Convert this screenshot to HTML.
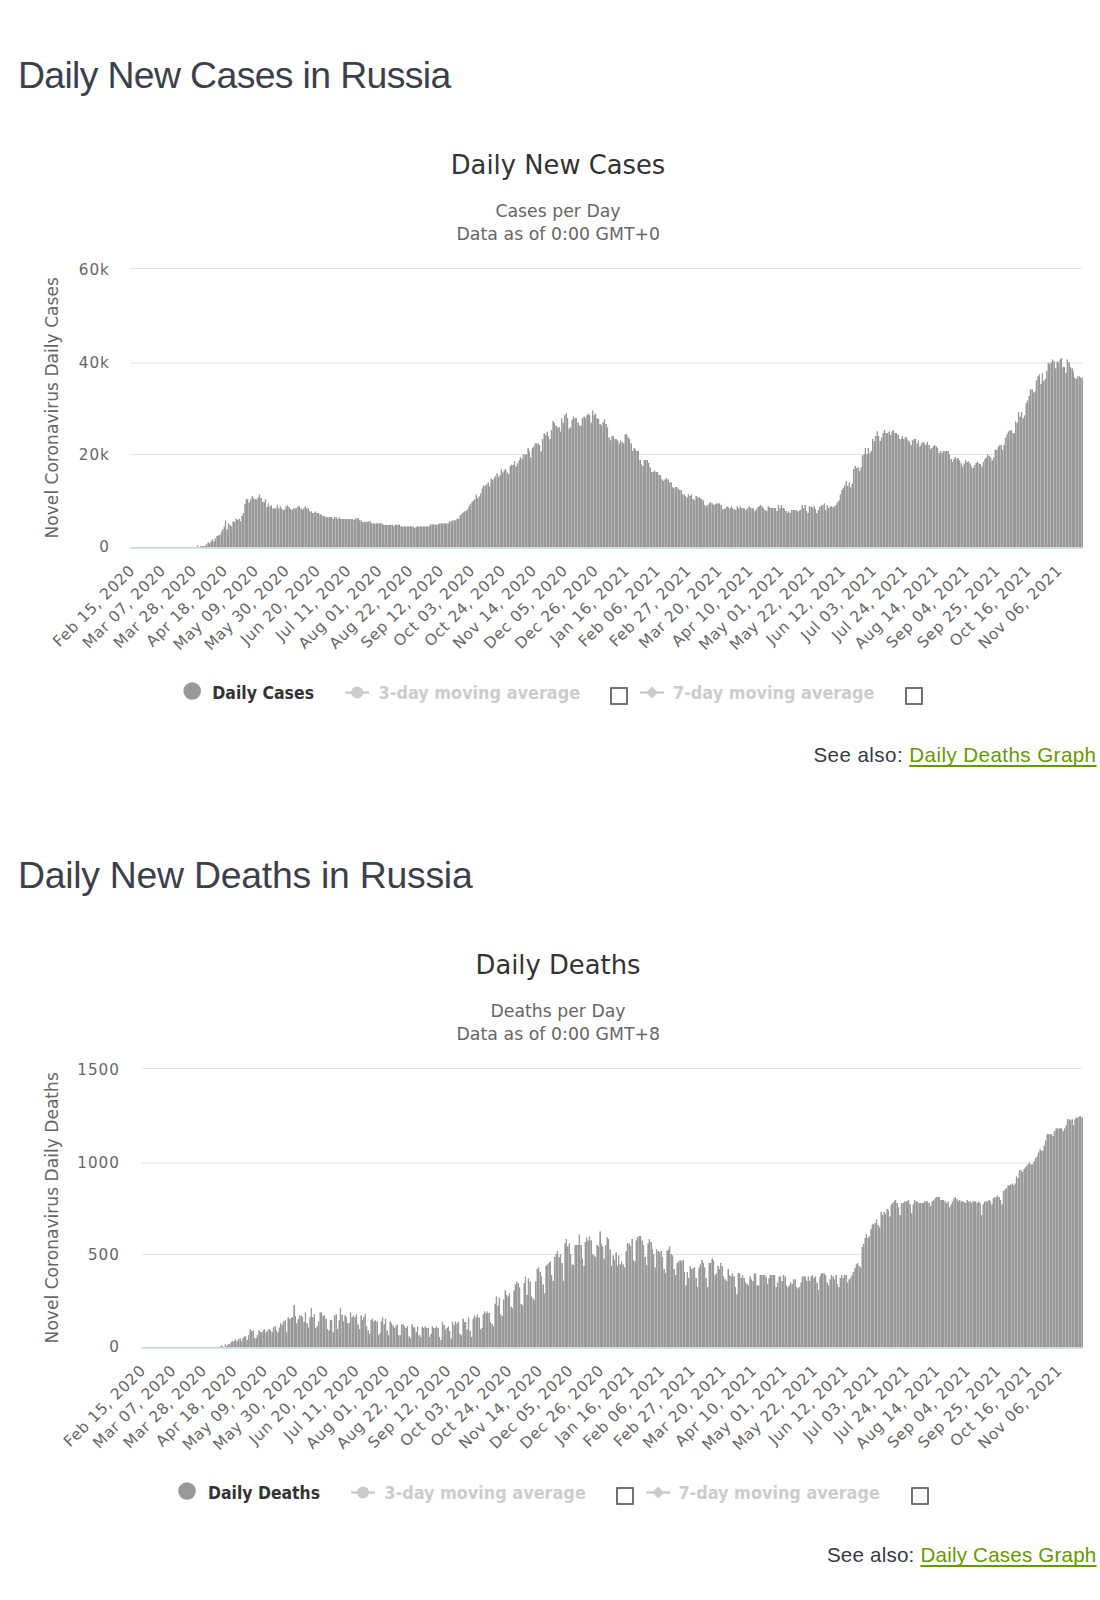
<!DOCTYPE html>
<html lang="en"><head><meta charset="utf-8"><title>Russia COVID - Coronavirus Statistics</title>
<style>
html,body{margin:0;padding:0;background:#fff}
body{width:1100px;height:1600px;position:relative;overflow:hidden;font-family:"Liberation Sans",sans-serif;color:#363945}
h3{position:absolute;left:17.9px;margin:0;font-weight:normal;font-size:37.4px;line-height:42px;color:#3c3f4c;white-space:nowrap;letter-spacing:-0.645px}
.chartbox{position:absolute;left:0;width:1100px;height:720px}
svg.hc{position:absolute;left:0;top:0;overflow:visible;font-family:"DejaVu Sans","Liberation Sans",sans-serif}
svg .t{font-size:25.8px;fill:#333}
svg .st{font-size:17.3px;fill:#666}
svg .yl text{font-size:15.2px;fill:#666;letter-spacing:1.0px}
svg .xl text{font-size:15.4px;fill:#666;letter-spacing:0.62px}
svg .yt{font-size:17.1px;fill:#666}
svg .lg text{font-family:"DejaVu Sans Condensed","DejaVu Sans",sans-serif;font-weight:bold;font-size:17.4px}
.cb{position:absolute;box-sizing:border-box;width:18px;height:18px;border:2px solid #717171;border-radius:1px;background:#fff;margin:0;appearance:none;-webkit-appearance:none}
.see{position:absolute;right:3.5px;font-size:20.6px;line-height:26px;white-space:nowrap;color:#363945;letter-spacing:0.42px}
.see a{color:#669900;text-decoration:underline;text-decoration-thickness:1.5px;text-underline-offset:2.5px;text-decoration-skip-ink:none}
</style></head><body>
<h3 style="top:54px">Daily New Cases in Russia</h3>
<div class="chartbox" style="top:0">
<svg class="hc" width="1100" height="620" viewBox="0 0 1100 620">
<text class="t" x="558" y="174.3" text-anchor="middle">Daily New Cases</text>
<text class="st" x="558" y="216.8" text-anchor="middle">Cases per Day</text>
<text class="st" x="558.3" y="239.7" text-anchor="middle" textLength="203.6">Data as of 0:00 GMT+0</text>
<path d="M130.5 268.5H1082.5" stroke="#e4e4e4" stroke-width="1.1"/>
<path d="M130.5 363.0H1082.5" stroke="#e4e4e4" stroke-width="1.1"/>
<path d="M130.5 454.5H1082.5" stroke="#e4e4e4" stroke-width="1.1"/>
<g class="yl" text-anchor="end">
<text x="109.9" y="275.3">60k</text>
<text x="109.9" y="368.3">40k</text>
<text x="109.9" y="459.6">20k</text>
<text x="109.9" y="552.2">0</text>
</g>
<text class="yt" transform="translate(58.1 407.8) rotate(-90)" text-anchor="middle">Novel Coronavirus Daily Cases</text>
<path d="M130.50 547.4L130.50 547.4h1.474L131.97 547.4h1.474L133.45 547.4h1.474L134.92 547.4h1.474L136.40 547.4h1.474L137.87 547.4h1.474L139.34 547.4h1.474L140.82 547.4h1.474L142.29 547.4h1.474L143.77 547.4h1.474L145.24 547.4h1.474L146.72 547.4h1.474L148.19 547.4h1.474L149.66 547.4h1.474L151.14 547.4h1.474L152.61 547.4h1.474L154.09 547.4h1.474L155.56 547.4h1.474L157.03 547.4h1.474L158.51 547.4h1.474L159.98 547.4h1.474L161.46 547.4h1.474L162.93 547.4h1.474L164.41 547.4h1.474L165.88 547.4h1.474L167.35 547.4h1.474L168.83 547.4h1.474L170.30 547.4h1.474L171.78 547.4h1.474L173.25 547.4h1.474L174.72 547.4h1.474L176.20 547.4h1.474L177.67 547.4h1.474L179.15 547.4h1.474L180.62 547.4h1.474L182.10 547.4h1.474L183.57 547.4h1.474L185.04 547.4h1.474L186.52 547.4h1.474L187.99 547.4h1.474L189.47 547.4h1.474L190.94 547.4h1.474L192.41 547.4h1.474L193.89 547.4h1.474L195.36 547.4h1.474L196.84 545.5h1.474L198.31 547.0h1.474L199.78 546.0h1.474L201.26 546.0h1.474L202.73 546.0h1.474L204.21 546.0h1.474L205.68 544.5h1.474L207.16 542.5h1.474L208.63 543.5h1.474L210.10 541.5h1.474L211.58 539.5h1.474L213.05 541.5h1.474L214.53 538.5h1.474L216.00 536.0h1.474L217.47 535.5h1.474L218.95 535.0h1.474L220.42 532.5h1.474L221.90 529.5h1.474L223.37 526.5h1.474L224.85 520.5h1.474L226.32 529.5h1.474L227.79 523.5h1.474L229.27 525.0h1.474L230.74 526.5h1.474L232.22 521.5h1.474L233.69 522.0h1.474L235.16 518.8h1.474L236.64 520.0h1.474L238.11 518.8h1.474L239.59 521.5h1.474L241.06 516.0h1.474L242.54 513.0h1.474L244.01 504.0h1.474L245.48 499.3h1.474L246.96 499.3h1.474L248.43 502.5h1.474L249.91 499.5h1.474L251.38 496.3h1.474L252.85 497.9h1.474L254.33 499.5h1.474L255.80 499.5h1.474L257.28 497.5h1.474L258.75 494.5h1.474L260.23 498.0h1.474L261.70 502.0h1.474L263.17 502.0h1.474L264.65 499.3h1.474L266.12 507.0h1.474L267.60 503.5h1.474L269.07 506.5h1.474L270.54 505.5h1.474L272.02 508.5h1.474L273.49 508.5h1.474L274.97 508.5h1.474L276.44 505.2h1.474L277.91 508.5h1.474L279.39 506.5h1.474L280.86 508.5h1.474L282.34 510.0h1.474L283.81 509.5h1.474L285.29 506.5h1.474L286.76 505.5h1.474L288.23 507.0h1.474L289.71 509.0h1.474L291.18 510.0h1.474L292.66 508.5h1.474L294.13 508.5h1.474L295.60 508.5h1.474L297.08 506.5h1.474L298.55 506.5h1.474L300.03 508.5h1.474L301.50 510.0h1.474L302.98 508.5h1.474L304.45 506.5h1.474L305.92 508.5h1.474L307.40 508.5h1.474L308.87 511.5h1.474L310.35 511.5h1.474L311.82 513.0h1.474L313.29 513.0h1.474L314.77 511.5h1.474L316.24 513.0h1.474L317.72 513.0h1.474L319.19 514.5h1.474L320.67 514.5h1.474L322.14 516.0h1.474L323.61 516.0h1.474L325.09 517.2h1.474L326.56 517.2h1.474L328.04 517.2h1.474L329.51 517.2h1.474L330.98 517.2h1.474L332.46 519.0h1.474L333.93 517.2h1.474L335.41 517.2h1.474L336.88 519.0h1.474L338.35 517.2h1.474L339.83 519.0h1.474L341.30 519.0h1.474L342.78 519.0h1.474L344.25 519.0h1.474L345.73 519.0h1.474L347.20 519.0h1.474L348.67 519.0h1.474L350.15 519.0h1.474L351.62 519.0h1.474L353.10 520.0h1.474L354.57 518.5h1.474L356.04 518.5h1.474L357.52 518.5h1.474L358.99 520.5h1.474L360.47 520.5h1.474L361.94 522.0h1.474L363.42 521.9h1.474L364.89 521.8h1.474L366.36 521.7h1.474L367.84 521.6h1.474L369.31 521.5h1.474L370.79 523.5h1.474L372.26 523.5h1.474L373.73 523.5h1.474L375.21 523.5h1.474L376.68 523.5h1.474L378.16 523.5h1.474L379.63 523.5h1.474L381.11 523.5h1.474L382.58 525.0h1.474L384.05 525.0h1.474L385.53 524.9h1.474L387.00 524.9h1.474L388.48 524.9h1.474L389.95 524.8h1.474L391.42 524.8h1.474L392.90 526.2h1.474L394.37 524.8h1.474L395.85 524.8h1.474L397.32 524.8h1.474L398.80 524.8h1.474L400.27 526.5h1.474L401.74 526.5h1.474L403.22 526.5h1.474L404.69 526.5h1.474L406.17 526.5h1.474L407.64 526.5h1.474L409.11 526.5h1.474L410.59 526.5h1.474L412.06 526.5h1.474L413.54 528.0h1.474L415.01 527.2h1.474L416.48 526.5h1.474L417.96 526.5h1.474L419.43 526.5h1.474L420.91 526.5h1.474L422.38 526.5h1.474L423.86 526.5h1.474L425.33 526.5h1.474L426.80 526.5h1.474L428.28 526.5h1.474L429.75 524.5h1.474L431.23 524.6h1.474L432.70 524.6h1.474L434.17 524.7h1.474L435.65 524.8h1.474L437.12 524.5h1.474L438.60 523.5h1.474L440.07 523.5h1.474L441.55 523.5h1.474L443.02 523.5h1.474L444.49 523.5h1.474L445.97 523.5h1.474L447.44 523.5h1.474L448.92 521.5h1.474L450.39 521.5h1.474L451.86 520.5h1.474L453.34 520.5h1.474L454.81 520.5h1.474L456.29 518.5h1.474L457.76 519.0h1.474L459.24 515.5h1.474L460.71 514.0h1.474L462.18 512.8h1.474L463.66 511.5h1.474L465.13 511.0h1.474L466.61 509.0h1.474L468.08 506.5h1.474L469.55 504.5h1.474L471.03 502.0h1.474L472.50 500.8h1.474L473.98 499.5h1.474L475.45 494.5h1.474L476.92 498.0h1.474L478.40 496.5h1.474L479.87 493.5h1.474L481.35 488.5h1.474L482.82 485.5h1.474L484.30 486.0h1.474L485.77 484.2h1.474L487.24 482.5h1.474L488.72 486.5h1.474L490.19 478.5h1.474L491.67 480.0h1.474L493.14 478.5h1.474L494.61 476.0h1.474L496.09 473.5h1.474L497.56 477.0h1.474L499.04 475.5h1.474L500.51 469.2h1.474L501.99 472.5h1.474L503.46 470.5h1.474L504.93 469.2h1.474L506.41 472.5h1.474L507.88 474.0h1.474L509.36 466.2h1.474L510.83 464.8h1.474L512.30 465.0h1.474L513.78 461.5h1.474L515.25 466.5h1.474L516.73 463.5h1.474L518.20 460.4h1.474L519.68 457.2h1.474L521.15 459.0h1.474L522.62 454.5h1.474L524.10 454.5h1.474L525.57 454.5h1.474L527.05 448.3h1.474L528.52 451.5h1.474L529.99 457.5h1.474L531.47 448.3h1.474L532.94 446.5h1.474L534.42 443.5h1.474L535.89 443.5h1.474L537.37 443.5h1.474L538.84 445.3h1.474L540.31 451.5h1.474L541.79 439.3h1.474L543.26 433.3h1.474L544.74 435.0h1.474L546.21 431.8h1.474L547.68 436.3h1.474L549.16 439.3h1.474L550.63 430.3h1.474L552.11 421.3h1.474L553.58 423.0h1.474L555.05 425.8h1.474L556.53 427.3h1.474L558.00 427.3h1.474L559.48 431.8h1.474L560.95 418.3h1.474L562.43 422.8h1.474L563.90 415.3h1.474L565.37 413.5h1.474L566.85 418.3h1.474L568.32 428.8h1.474L569.80 427.3h1.474L571.27 419.8h1.474L572.74 416.5h1.474L574.22 418.3h1.474L575.69 418.3h1.474L577.17 422.8h1.474L578.64 425.8h1.474L580.12 425.8h1.474L581.59 418.3h1.474L583.06 416.5h1.474L584.54 418.3h1.474L586.01 415.3h1.474L587.49 413.5h1.474L588.96 415.3h1.474L590.43 422.8h1.474L591.91 410.5h1.474L593.38 415.3h1.474L594.86 413.5h1.474L596.33 418.3h1.474L597.81 419.0h1.474L599.28 424.0h1.474L600.75 425.5h1.474L602.23 422.5h1.474L603.70 419.5h1.474L605.18 424.0h1.474L606.65 427.5h1.474L608.12 437.5h1.474L609.60 440.5h1.474L611.07 436.2h1.474L612.55 436.2h1.474L614.02 439.2h1.474L615.49 439.2h1.474L616.97 440.5h1.474L618.44 443.5h1.474L619.92 440.5h1.474L621.39 442.0h1.474L622.87 443.5h1.474L624.34 434.5h1.474L625.81 434.5h1.474L627.29 437.5h1.474L628.76 439.0h1.474L630.24 443.5h1.474L631.71 451.0h1.474L633.18 448.0h1.474L634.66 449.5h1.474L636.13 451.0h1.474L637.61 451.0h1.474L639.08 460.0h1.474L640.56 464.5h1.474L642.03 466.0h1.474L643.50 460.0h1.474L644.98 460.0h1.474L646.45 460.0h1.474L647.93 463.0h1.474L649.40 467.5h1.474L650.87 472.0h1.474L652.35 472.0h1.474L653.82 470.5h1.474L655.30 472.0h1.474L656.77 472.0h1.474L658.25 475.0h1.474L659.72 475.0h1.474L661.19 479.5h1.474L662.67 481.0h1.474L664.14 479.5h1.474L665.62 478.0h1.474L667.09 479.5h1.474L668.56 482.5h1.474L670.04 482.5h1.474L671.51 487.0h1.474L672.99 488.5h1.474L674.46 487.0h1.474L675.93 487.0h1.474L677.41 488.5h1.474L678.88 490.0h1.474L680.36 490.0h1.474L681.83 494.5h1.474L683.31 494.5h1.474L684.78 496.0h1.474L686.25 497.5h1.474L687.73 494.5h1.474L689.20 496.0h1.474L690.68 494.5h1.474L692.15 499.0h1.474L693.62 500.5h1.474L695.10 496.0h1.474L696.57 497.5h1.474L698.05 497.5h1.474L699.52 498.2h1.474L701.00 499.0h1.474L702.47 500.5h1.474L703.94 505.0h1.474L705.42 506.5h1.474L706.89 505.0h1.474L708.37 503.5h1.474L709.84 502.0h1.474L711.31 503.5h1.474L712.79 505.0h1.474L714.26 504.2h1.474L715.74 503.5h1.474L717.21 503.5h1.474L718.69 503.5h1.474L720.16 505.0h1.474L721.63 509.5h1.474L723.11 509.0h1.474L724.58 508.5h1.474L726.06 506.5h1.474L727.53 507.5h1.474L729.00 508.5h1.474L730.48 506.5h1.474L731.95 508.5h1.474L733.43 509.2h1.474L734.90 510.0h1.474L736.38 506.5h1.474L737.85 508.5h1.474L739.32 506.5h1.474L740.80 508.0h1.474L742.27 508.2h1.474L743.75 508.5h1.474L745.22 510.0h1.474L746.69 508.5h1.474L748.17 506.5h1.474L749.64 508.0h1.474L751.12 508.2h1.474L752.59 508.5h1.474L754.06 511.0h1.474L755.54 509.0h1.474L757.01 507.0h1.474L758.49 506.5h1.474L759.96 505.0h1.474L761.44 506.8h1.474L762.91 508.5h1.474L764.38 510.0h1.474L765.86 511.0h1.474L767.33 506.5h1.474L768.81 507.2h1.474L770.28 508.0h1.474L771.75 508.0h1.474L773.23 508.0h1.474L774.70 508.0h1.474L776.18 511.0h1.474L777.65 505.0h1.474L779.13 508.5h1.474L780.60 505.0h1.474L782.07 508.0h1.474L783.55 509.0h1.474L785.02 511.0h1.474L786.50 513.0h1.474L787.97 511.5h1.474L789.44 513.0h1.474L790.92 510.0h1.474L792.39 510.0h1.474L793.87 510.0h1.474L795.34 510.0h1.474L796.82 511.5h1.474L798.29 510.8h1.474L799.76 510.0h1.474L801.24 505.0h1.474L802.71 508.5h1.474L804.19 505.0h1.474L805.66 511.0h1.474L807.13 513.0h1.474L808.61 506.5h1.474L810.08 506.5h1.474L811.56 508.0h1.474L813.03 506.5h1.474L814.50 509.0h1.474L815.98 513.0h1.474L817.45 510.0h1.474L818.93 507.0h1.474L820.40 505.5h1.474L821.88 505.5h1.474L823.35 503.5h1.474L824.82 510.0h1.474L826.30 505.0h1.474L827.77 508.0h1.474L829.25 506.5h1.474L830.72 506.5h1.474L832.19 507.0h1.474L833.67 506.5h1.474L835.14 505.0h1.474L836.62 502.0h1.474L838.09 500.5h1.474L839.57 494.5h1.474L841.04 490.0h1.474L842.51 487.8h1.474L843.99 485.5h1.474L845.46 481.0h1.474L846.94 486.0h1.474L848.41 482.5h1.474L849.88 487.5h1.474L851.36 484.0h1.474L852.83 469.0h1.474L854.31 466.0h1.474L855.78 468.0h1.474L857.26 467.5h1.474L858.73 471.0h1.474L860.20 467.5h1.474L861.68 455.5h1.474L863.15 454.0h1.474L864.63 448.0h1.474L866.10 454.0h1.474L867.57 448.0h1.474L869.05 453.0h1.474L870.52 451.0h1.474L872.00 439.0h1.474L873.47 441.0h1.474L874.95 436.0h1.474L876.42 431.5h1.474L877.89 436.0h1.474L879.37 441.0h1.474L880.84 437.5h1.474L882.32 433.0h1.474L883.79 430.0h1.474L885.26 433.0h1.474L886.74 433.5h1.474L888.21 431.5h1.474L889.69 435.0h1.474L891.16 431.5h1.474L892.63 430.0h1.474L894.11 433.0h1.474L895.58 433.0h1.474L897.06 434.5h1.474L898.53 439.0h1.474L900.01 439.0h1.474L901.48 436.0h1.474L902.95 439.0h1.474L904.43 437.5h1.474L905.90 437.5h1.474L907.38 440.5h1.474L908.85 442.0h1.474L910.32 445.0h1.474L911.80 440.5h1.474L913.27 439.0h1.474L914.75 439.0h1.474L916.22 443.5h1.474L917.70 440.5h1.474L919.17 446.5h1.474L920.64 443.5h1.474L922.12 442.0h1.474L923.59 443.5h1.474L925.07 445.0h1.474L926.54 442.0h1.474L928.01 445.0h1.474L929.49 449.5h1.474L930.96 448.0h1.474L932.44 446.5h1.474L933.91 445.0h1.474L935.39 446.5h1.474L936.86 448.0h1.474L938.33 453.0h1.474L939.81 451.0h1.474L941.28 453.0h1.474L942.76 451.0h1.474L944.23 451.0h1.474L945.70 451.0h1.474L947.18 451.0h1.474L948.65 454.5h1.474L950.13 459.0h1.474L951.60 462.0h1.474L953.07 459.0h1.474L954.55 457.0h1.474L956.02 458.5h1.474L957.50 458.5h1.474L958.97 460.5h1.474L960.45 463.5h1.474L961.92 466.5h1.474L963.39 463.5h1.474L964.87 460.0h1.474L966.34 462.0h1.474L967.82 461.5h1.474L969.29 463.5h1.474L970.76 466.5h1.474L972.24 468.0h1.474L973.71 465.0h1.474L975.19 463.0h1.474L976.66 461.5h1.474L978.14 463.5h1.474L979.61 464.0h1.474L981.08 466.5h1.474L982.56 462.0h1.474L984.03 459.0h1.474L985.51 457.5h1.474L986.98 454.0h1.474L988.45 456.0h1.474L989.93 457.5h1.474L991.40 460.5h1.474L992.88 457.5h1.474L994.35 449.5h1.474L995.83 450.0h1.474L997.30 447.0h1.474L998.77 445.0h1.474L1000.25 445.0h1.474L1001.72 450.0h1.474L1003.20 445.0h1.474L1004.67 437.7h1.474L1006.14 434.6h1.474L1007.62 431.4h1.474L1009.09 430.4h1.474L1010.57 430.4h1.474L1012.04 433.2h1.474L1013.52 433.2h1.474L1014.99 421.4h1.474L1016.46 422.7h1.474L1017.94 412.3h1.474L1019.41 416.8h1.474L1020.89 412.3h1.474L1022.36 418.2h1.474L1023.83 415.4h1.474L1025.31 403.2h1.474L1026.78 400.4h1.474L1028.26 395.9h1.474L1029.73 389.6h1.474L1031.20 389.6h1.474L1032.68 392.7h1.474L1034.15 391.4h1.474L1035.63 380.4h1.474L1037.10 376.4h1.474L1038.58 374.6h1.474L1040.05 384.1h1.474L1041.52 373.2h1.474L1043.00 380.9h1.474L1044.47 379.1h1.474L1045.95 370.9h1.474L1047.42 362.7h1.474L1048.89 364.1h1.474L1050.37 362.3h1.474L1051.84 359.6h1.474L1053.32 361.4h1.474L1054.79 368.6h1.474L1056.27 361.4h1.474L1057.74 362.7h1.474L1059.21 359.6h1.474L1060.69 358.2h1.474L1062.16 367.3h1.474L1063.64 367.3h1.474L1065.11 372.7h1.474L1066.58 359.6h1.474L1068.06 362.3h1.474L1069.53 367.3h1.474L1071.01 368.6h1.474L1072.48 371.8h1.474L1073.96 377.7h1.474L1075.43 379.1h1.474L1076.90 376.4h1.474L1078.38 376.4h1.474L1079.85 377.7h1.474L1081.33 377.7h1.474L1082.80 547.4z" fill="#b7b7b7"/>
<path d="M197 547.4V545.5h1V547.4zM199 547.4V547.0h1V547.4zM200 547.4V546.0h1V547.4zM202 547.4V546.0h1V547.4zM203 547.4V546.0h1V547.4zM205 547.4V546.0h1V547.4zM206 547.4V544.5h1V547.4zM208 547.4V542.5h1V547.4zM209 547.4V543.5h1V547.4zM211 547.4V541.5h1V547.4zM212 547.4V539.5h1V547.4zM214 547.4V541.5h1V547.4zM215 547.4V538.5h1V547.4zM217 547.4V536.0h1V547.4zM218 547.4V535.5h1V547.4zM219 547.4V535.0h1V547.4zM221 547.4V532.5h1V547.4zM222 547.4V529.5h1V547.4zM224 547.4V526.5h1V547.4zM225 547.4V520.5h1V547.4zM227 547.4V529.5h1V547.4zM228 547.4V523.5h1V547.4zM230 547.4V525.0h1V547.4zM231 547.4V526.5h1V547.4zM233 547.4V521.5h1V547.4zM234 547.4V522.0h1V547.4zM236 547.4V518.8h1V547.4zM237 547.4V520.0h1V547.4zM239 547.4V518.8h1V547.4zM240 547.4V521.5h1V547.4zM242 547.4V516.0h1V547.4zM243 547.4V513.0h1V547.4zM245 547.4V504.0h1V547.4zM246 547.4V499.3h1V547.4zM247 547.4V499.3h1V547.4zM249 547.4V502.5h1V547.4zM250 547.4V499.5h1V547.4zM252 547.4V496.3h1V547.4zM253 547.4V497.9h1V547.4zM255 547.4V499.5h1V547.4zM256 547.4V499.5h1V547.4zM258 547.4V497.5h1V547.4zM259 547.4V494.5h1V547.4zM261 547.4V498.0h1V547.4zM262 547.4V502.0h1V547.4zM264 547.4V502.0h1V547.4zM265 547.4V499.3h1V547.4zM267 547.4V507.0h1V547.4zM268 547.4V503.5h1V547.4zM270 547.4V506.5h1V547.4zM271 547.4V505.5h1V547.4zM273 547.4V508.5h1V547.4zM274 547.4V508.5h1V547.4zM275 547.4V508.5h1V547.4zM277 547.4V505.2h1V547.4zM278 547.4V508.5h1V547.4zM280 547.4V506.5h1V547.4zM281 547.4V508.5h1V547.4zM283 547.4V510.0h1V547.4zM284 547.4V509.5h1V547.4zM286 547.4V506.5h1V547.4zM287 547.4V505.5h1V547.4zM289 547.4V507.0h1V547.4zM290 547.4V509.0h1V547.4zM292 547.4V510.0h1V547.4zM293 547.4V508.5h1V547.4zM295 547.4V508.5h1V547.4zM296 547.4V508.5h1V547.4zM298 547.4V506.5h1V547.4zM299 547.4V506.5h1V547.4zM301 547.4V508.5h1V547.4zM302 547.4V510.0h1V547.4zM303 547.4V508.5h1V547.4zM305 547.4V506.5h1V547.4zM306 547.4V508.5h1V547.4zM308 547.4V508.5h1V547.4zM309 547.4V511.5h1V547.4zM311 547.4V511.5h1V547.4zM312 547.4V513.0h1V547.4zM314 547.4V513.0h1V547.4zM315 547.4V511.5h1V547.4zM317 547.4V513.0h1V547.4zM318 547.4V513.0h1V547.4zM320 547.4V514.5h1V547.4zM321 547.4V514.5h1V547.4zM323 547.4V516.0h1V547.4zM324 547.4V516.0h1V547.4zM326 547.4V517.2h1V547.4zM327 547.4V517.2h1V547.4zM329 547.4V517.2h1V547.4zM330 547.4V517.2h1V547.4zM331 547.4V517.2h1V547.4zM333 547.4V519.0h1V547.4zM334 547.4V517.2h1V547.4zM336 547.4V517.2h1V547.4zM337 547.4V519.0h1V547.4zM339 547.4V517.2h1V547.4zM340 547.4V519.0h1V547.4zM342 547.4V519.0h1V547.4zM343 547.4V519.0h1V547.4zM345 547.4V519.0h1V547.4zM346 547.4V519.0h1V547.4zM348 547.4V519.0h1V547.4zM349 547.4V519.0h1V547.4zM351 547.4V519.0h1V547.4zM352 547.4V519.0h1V547.4zM354 547.4V520.0h1V547.4zM355 547.4V518.5h1V547.4zM357 547.4V518.5h1V547.4zM358 547.4V518.5h1V547.4zM359 547.4V520.5h1V547.4zM361 547.4V520.5h1V547.4zM362 547.4V522.0h1V547.4zM364 547.4V521.9h1V547.4zM365 547.4V521.8h1V547.4zM367 547.4V521.7h1V547.4zM368 547.4V521.6h1V547.4zM370 547.4V521.5h1V547.4zM371 547.4V523.5h1V547.4zM373 547.4V523.5h1V547.4zM374 547.4V523.5h1V547.4zM376 547.4V523.5h1V547.4zM377 547.4V523.5h1V547.4zM379 547.4V523.5h1V547.4zM380 547.4V523.5h1V547.4zM382 547.4V523.5h1V547.4zM383 547.4V525.0h1V547.4zM385 547.4V525.0h1V547.4zM386 547.4V524.9h1V547.4zM388 547.4V524.9h1V547.4zM389 547.4V524.9h1V547.4zM390 547.4V524.8h1V547.4zM392 547.4V524.8h1V547.4zM393 547.4V526.2h1V547.4zM395 547.4V524.8h1V547.4zM396 547.4V524.8h1V547.4zM398 547.4V524.8h1V547.4zM399 547.4V524.8h1V547.4zM401 547.4V526.5h1V547.4zM402 547.4V526.5h1V547.4zM404 547.4V526.5h1V547.4zM405 547.4V526.5h1V547.4zM407 547.4V526.5h1V547.4zM408 547.4V526.5h1V547.4zM410 547.4V526.5h1V547.4zM411 547.4V526.5h1V547.4zM413 547.4V526.5h1V547.4zM414 547.4V528.0h1V547.4zM416 547.4V527.2h1V547.4zM417 547.4V526.5h1V547.4zM418 547.4V526.5h1V547.4zM420 547.4V526.5h1V547.4zM421 547.4V526.5h1V547.4zM423 547.4V526.5h1V547.4zM424 547.4V526.5h1V547.4zM426 547.4V526.5h1V547.4zM427 547.4V526.5h1V547.4zM429 547.4V526.5h1V547.4zM430 547.4V524.5h1V547.4zM432 547.4V524.6h1V547.4zM433 547.4V524.6h1V547.4zM435 547.4V524.7h1V547.4zM436 547.4V524.8h1V547.4zM438 547.4V524.5h1V547.4zM439 547.4V523.5h1V547.4zM441 547.4V523.5h1V547.4zM442 547.4V523.5h1V547.4zM444 547.4V523.5h1V547.4zM445 547.4V523.5h1V547.4zM446 547.4V523.5h1V547.4zM448 547.4V523.5h1V547.4zM449 547.4V521.5h1V547.4zM451 547.4V521.5h1V547.4zM452 547.4V520.5h1V547.4zM454 547.4V520.5h1V547.4zM455 547.4V520.5h1V547.4zM457 547.4V518.5h1V547.4zM458 547.4V519.0h1V547.4zM460 547.4V515.5h1V547.4zM461 547.4V514.0h1V547.4zM463 547.4V512.8h1V547.4zM464 547.4V511.5h1V547.4zM466 547.4V511.0h1V547.4zM467 547.4V509.0h1V547.4zM469 547.4V506.5h1V547.4zM470 547.4V504.5h1V547.4zM472 547.4V502.0h1V547.4zM473 547.4V500.8h1V547.4zM474 547.4V499.5h1V547.4zM476 547.4V494.5h1V547.4zM477 547.4V498.0h1V547.4zM479 547.4V496.5h1V547.4zM480 547.4V493.5h1V547.4zM482 547.4V488.5h1V547.4zM483 547.4V485.5h1V547.4zM485 547.4V486.0h1V547.4zM486 547.4V484.2h1V547.4zM488 547.4V482.5h1V547.4zM489 547.4V486.5h1V547.4zM491 547.4V478.5h1V547.4zM492 547.4V480.0h1V547.4zM494 547.4V478.5h1V547.4zM495 547.4V476.0h1V547.4zM497 547.4V473.5h1V547.4zM498 547.4V477.0h1V547.4zM500 547.4V475.5h1V547.4zM501 547.4V469.2h1V547.4zM502 547.4V472.5h1V547.4zM504 547.4V470.5h1V547.4zM505 547.4V469.2h1V547.4zM507 547.4V472.5h1V547.4zM508 547.4V474.0h1V547.4zM510 547.4V466.2h1V547.4zM511 547.4V464.8h1V547.4zM513 547.4V465.0h1V547.4zM514 547.4V461.5h1V547.4zM516 547.4V466.5h1V547.4zM517 547.4V463.5h1V547.4zM519 547.4V460.4h1V547.4zM520 547.4V457.2h1V547.4zM522 547.4V459.0h1V547.4zM523 547.4V454.5h1V547.4zM525 547.4V454.5h1V547.4zM526 547.4V454.5h1V547.4zM528 547.4V448.3h1V547.4zM529 547.4V451.5h1V547.4zM530 547.4V457.5h1V547.4zM532 547.4V448.3h1V547.4zM533 547.4V446.5h1V547.4zM535 547.4V443.5h1V547.4zM536 547.4V443.5h1V547.4zM538 547.4V443.5h1V547.4zM539 547.4V445.3h1V547.4zM541 547.4V451.5h1V547.4zM542 547.4V439.3h1V547.4zM544 547.4V433.3h1V547.4zM545 547.4V435.0h1V547.4zM547 547.4V431.8h1V547.4zM548 547.4V436.3h1V547.4zM550 547.4V439.3h1V547.4zM551 547.4V430.3h1V547.4zM553 547.4V421.3h1V547.4zM554 547.4V423.0h1V547.4zM556 547.4V425.8h1V547.4zM557 547.4V427.3h1V547.4zM559 547.4V427.3h1V547.4zM560 547.4V431.8h1V547.4zM561 547.4V418.3h1V547.4zM563 547.4V422.8h1V547.4zM564 547.4V415.3h1V547.4zM566 547.4V413.5h1V547.4zM567 547.4V418.3h1V547.4zM569 547.4V428.8h1V547.4zM570 547.4V427.3h1V547.4zM572 547.4V419.8h1V547.4zM573 547.4V416.5h1V547.4zM575 547.4V418.3h1V547.4zM576 547.4V418.3h1V547.4zM578 547.4V422.8h1V547.4zM579 547.4V425.8h1V547.4zM581 547.4V425.8h1V547.4zM582 547.4V418.3h1V547.4zM584 547.4V416.5h1V547.4zM585 547.4V418.3h1V547.4zM587 547.4V415.3h1V547.4zM588 547.4V413.5h1V547.4zM589 547.4V415.3h1V547.4zM591 547.4V422.8h1V547.4zM592 547.4V410.5h1V547.4zM594 547.4V415.3h1V547.4zM595 547.4V413.5h1V547.4zM597 547.4V418.3h1V547.4zM598 547.4V419.0h1V547.4zM600 547.4V424.0h1V547.4zM601 547.4V425.5h1V547.4zM603 547.4V422.5h1V547.4zM604 547.4V419.5h1V547.4zM606 547.4V424.0h1V547.4zM607 547.4V427.5h1V547.4zM609 547.4V437.5h1V547.4zM610 547.4V440.5h1V547.4zM612 547.4V436.2h1V547.4zM613 547.4V436.2h1V547.4zM615 547.4V439.2h1V547.4zM616 547.4V439.2h1V547.4zM617 547.4V440.5h1V547.4zM619 547.4V443.5h1V547.4zM620 547.4V440.5h1V547.4zM622 547.4V442.0h1V547.4zM623 547.4V443.5h1V547.4zM625 547.4V434.5h1V547.4zM626 547.4V434.5h1V547.4zM628 547.4V437.5h1V547.4zM629 547.4V439.0h1V547.4zM631 547.4V443.5h1V547.4zM632 547.4V451.0h1V547.4zM634 547.4V448.0h1V547.4zM635 547.4V449.5h1V547.4zM637 547.4V451.0h1V547.4zM638 547.4V451.0h1V547.4zM640 547.4V460.0h1V547.4zM641 547.4V464.5h1V547.4zM643 547.4V466.0h1V547.4zM644 547.4V460.0h1V547.4zM645 547.4V460.0h1V547.4zM647 547.4V460.0h1V547.4zM648 547.4V463.0h1V547.4zM650 547.4V467.5h1V547.4zM651 547.4V472.0h1V547.4zM653 547.4V472.0h1V547.4zM654 547.4V470.5h1V547.4zM656 547.4V472.0h1V547.4zM657 547.4V472.0h1V547.4zM659 547.4V475.0h1V547.4zM660 547.4V475.0h1V547.4zM662 547.4V479.5h1V547.4zM663 547.4V481.0h1V547.4zM665 547.4V479.5h1V547.4zM666 547.4V478.0h1V547.4zM668 547.4V479.5h1V547.4zM669 547.4V482.5h1V547.4zM671 547.4V482.5h1V547.4zM672 547.4V487.0h1V547.4zM673 547.4V488.5h1V547.4zM675 547.4V487.0h1V547.4zM676 547.4V487.0h1V547.4zM678 547.4V488.5h1V547.4zM679 547.4V490.0h1V547.4zM681 547.4V490.0h1V547.4zM682 547.4V494.5h1V547.4zM684 547.4V494.5h1V547.4zM685 547.4V496.0h1V547.4zM687 547.4V497.5h1V547.4zM688 547.4V494.5h1V547.4zM690 547.4V496.0h1V547.4zM691 547.4V494.5h1V547.4zM693 547.4V499.0h1V547.4zM694 547.4V500.5h1V547.4zM696 547.4V496.0h1V547.4zM697 547.4V497.5h1V547.4zM699 547.4V497.5h1V547.4zM700 547.4V498.2h1V547.4zM701 547.4V499.0h1V547.4zM703 547.4V500.5h1V547.4zM704 547.4V505.0h1V547.4zM706 547.4V506.5h1V547.4zM707 547.4V505.0h1V547.4zM709 547.4V503.5h1V547.4zM710 547.4V502.0h1V547.4zM712 547.4V503.5h1V547.4zM713 547.4V505.0h1V547.4zM715 547.4V504.2h1V547.4zM716 547.4V503.5h1V547.4zM718 547.4V503.5h1V547.4zM719 547.4V503.5h1V547.4zM721 547.4V505.0h1V547.4zM722 547.4V509.5h1V547.4zM724 547.4V509.0h1V547.4zM725 547.4V508.5h1V547.4zM727 547.4V506.5h1V547.4zM728 547.4V507.5h1V547.4zM730 547.4V508.5h1V547.4zM731 547.4V506.5h1V547.4zM732 547.4V508.5h1V547.4zM734 547.4V509.2h1V547.4zM735 547.4V510.0h1V547.4zM737 547.4V506.5h1V547.4zM738 547.4V508.5h1V547.4zM740 547.4V506.5h1V547.4zM741 547.4V508.0h1V547.4zM743 547.4V508.2h1V547.4zM744 547.4V508.5h1V547.4zM746 547.4V510.0h1V547.4zM747 547.4V508.5h1V547.4zM749 547.4V506.5h1V547.4zM750 547.4V508.0h1V547.4zM752 547.4V508.2h1V547.4zM753 547.4V508.5h1V547.4zM755 547.4V511.0h1V547.4zM756 547.4V509.0h1V547.4zM758 547.4V507.0h1V547.4zM759 547.4V506.5h1V547.4zM760 547.4V505.0h1V547.4zM762 547.4V506.8h1V547.4zM763 547.4V508.5h1V547.4zM765 547.4V510.0h1V547.4zM766 547.4V511.0h1V547.4zM768 547.4V506.5h1V547.4zM769 547.4V507.2h1V547.4zM771 547.4V508.0h1V547.4zM772 547.4V508.0h1V547.4zM774 547.4V508.0h1V547.4zM775 547.4V508.0h1V547.4zM777 547.4V511.0h1V547.4zM778 547.4V505.0h1V547.4zM780 547.4V508.5h1V547.4zM781 547.4V505.0h1V547.4zM783 547.4V508.0h1V547.4zM784 547.4V509.0h1V547.4zM786 547.4V511.0h1V547.4zM787 547.4V513.0h1V547.4zM788 547.4V511.5h1V547.4zM790 547.4V513.0h1V547.4zM791 547.4V510.0h1V547.4zM793 547.4V510.0h1V547.4zM794 547.4V510.0h1V547.4zM796 547.4V510.0h1V547.4zM797 547.4V511.5h1V547.4zM799 547.4V510.8h1V547.4zM800 547.4V510.0h1V547.4zM802 547.4V505.0h1V547.4zM803 547.4V508.5h1V547.4zM805 547.4V505.0h1V547.4zM806 547.4V511.0h1V547.4zM808 547.4V513.0h1V547.4zM809 547.4V506.5h1V547.4zM811 547.4V506.5h1V547.4zM812 547.4V508.0h1V547.4zM814 547.4V506.5h1V547.4zM815 547.4V509.0h1V547.4zM816 547.4V513.0h1V547.4zM818 547.4V510.0h1V547.4zM819 547.4V507.0h1V547.4zM821 547.4V505.5h1V547.4zM822 547.4V505.5h1V547.4zM824 547.4V503.5h1V547.4zM825 547.4V510.0h1V547.4zM827 547.4V505.0h1V547.4zM828 547.4V508.0h1V547.4zM830 547.4V506.5h1V547.4zM831 547.4V506.5h1V547.4zM833 547.4V507.0h1V547.4zM834 547.4V506.5h1V547.4zM836 547.4V505.0h1V547.4zM837 547.4V502.0h1V547.4zM839 547.4V500.5h1V547.4zM840 547.4V494.5h1V547.4zM842 547.4V490.0h1V547.4zM843 547.4V487.8h1V547.4zM844 547.4V485.5h1V547.4zM846 547.4V481.0h1V547.4zM847 547.4V486.0h1V547.4zM849 547.4V482.5h1V547.4zM850 547.4V487.5h1V547.4zM852 547.4V484.0h1V547.4zM853 547.4V469.0h1V547.4zM855 547.4V466.0h1V547.4zM856 547.4V468.0h1V547.4zM858 547.4V467.5h1V547.4zM859 547.4V471.0h1V547.4zM861 547.4V467.5h1V547.4zM862 547.4V455.5h1V547.4zM864 547.4V454.0h1V547.4zM865 547.4V448.0h1V547.4zM867 547.4V454.0h1V547.4zM868 547.4V448.0h1V547.4zM870 547.4V453.0h1V547.4zM871 547.4V451.0h1V547.4zM872 547.4V439.0h1V547.4zM874 547.4V441.0h1V547.4zM875 547.4V436.0h1V547.4zM877 547.4V431.5h1V547.4zM878 547.4V436.0h1V547.4zM880 547.4V441.0h1V547.4zM881 547.4V437.5h1V547.4zM883 547.4V433.0h1V547.4zM884 547.4V430.0h1V547.4zM886 547.4V433.0h1V547.4zM887 547.4V433.5h1V547.4zM889 547.4V431.5h1V547.4zM890 547.4V435.0h1V547.4zM892 547.4V431.5h1V547.4zM893 547.4V430.0h1V547.4zM895 547.4V433.0h1V547.4zM896 547.4V433.0h1V547.4zM898 547.4V434.5h1V547.4zM899 547.4V439.0h1V547.4zM901 547.4V439.0h1V547.4zM902 547.4V436.0h1V547.4zM903 547.4V439.0h1V547.4zM905 547.4V437.5h1V547.4zM906 547.4V437.5h1V547.4zM908 547.4V440.5h1V547.4zM909 547.4V442.0h1V547.4zM911 547.4V445.0h1V547.4zM912 547.4V440.5h1V547.4zM914 547.4V439.0h1V547.4zM915 547.4V439.0h1V547.4zM917 547.4V443.5h1V547.4zM918 547.4V440.5h1V547.4zM920 547.4V446.5h1V547.4zM921 547.4V443.5h1V547.4zM923 547.4V442.0h1V547.4zM924 547.4V443.5h1V547.4zM926 547.4V445.0h1V547.4zM927 547.4V442.0h1V547.4zM929 547.4V445.0h1V547.4zM930 547.4V449.5h1V547.4zM931 547.4V448.0h1V547.4zM933 547.4V446.5h1V547.4zM934 547.4V445.0h1V547.4zM936 547.4V446.5h1V547.4zM937 547.4V448.0h1V547.4zM939 547.4V453.0h1V547.4zM940 547.4V451.0h1V547.4zM942 547.4V453.0h1V547.4zM943 547.4V451.0h1V547.4zM945 547.4V451.0h1V547.4zM946 547.4V451.0h1V547.4zM948 547.4V451.0h1V547.4zM949 547.4V454.5h1V547.4zM951 547.4V459.0h1V547.4zM952 547.4V462.0h1V547.4zM954 547.4V459.0h1V547.4zM955 547.4V457.0h1V547.4zM957 547.4V458.5h1V547.4zM958 547.4V458.5h1V547.4zM959 547.4V460.5h1V547.4zM961 547.4V463.5h1V547.4zM962 547.4V466.5h1V547.4zM964 547.4V463.5h1V547.4zM965 547.4V460.0h1V547.4zM967 547.4V462.0h1V547.4zM968 547.4V461.5h1V547.4zM970 547.4V463.5h1V547.4zM971 547.4V466.5h1V547.4zM973 547.4V468.0h1V547.4zM974 547.4V465.0h1V547.4zM976 547.4V463.0h1V547.4zM977 547.4V461.5h1V547.4zM979 547.4V463.5h1V547.4zM980 547.4V464.0h1V547.4zM982 547.4V466.5h1V547.4zM983 547.4V462.0h1V547.4zM985 547.4V459.0h1V547.4zM986 547.4V457.5h1V547.4zM987 547.4V454.0h1V547.4zM989 547.4V456.0h1V547.4zM990 547.4V457.5h1V547.4zM992 547.4V460.5h1V547.4zM993 547.4V457.5h1V547.4zM995 547.4V449.5h1V547.4zM996 547.4V450.0h1V547.4zM998 547.4V447.0h1V547.4zM999 547.4V445.0h1V547.4zM1001 547.4V445.0h1V547.4zM1002 547.4V450.0h1V547.4zM1004 547.4V445.0h1V547.4zM1005 547.4V437.7h1V547.4zM1007 547.4V434.6h1V547.4zM1008 547.4V431.4h1V547.4zM1010 547.4V430.4h1V547.4zM1011 547.4V430.4h1V547.4zM1013 547.4V433.2h1V547.4zM1014 547.4V433.2h1V547.4zM1015 547.4V421.4h1V547.4zM1017 547.4V422.7h1V547.4zM1018 547.4V412.3h1V547.4zM1020 547.4V416.8h1V547.4zM1021 547.4V412.3h1V547.4zM1023 547.4V418.2h1V547.4zM1024 547.4V415.4h1V547.4zM1026 547.4V403.2h1V547.4zM1027 547.4V400.4h1V547.4zM1029 547.4V395.9h1V547.4zM1030 547.4V389.6h1V547.4zM1032 547.4V389.6h1V547.4zM1033 547.4V392.7h1V547.4zM1035 547.4V391.4h1V547.4zM1036 547.4V380.4h1V547.4zM1038 547.4V376.4h1V547.4zM1039 547.4V374.6h1V547.4zM1041 547.4V384.1h1V547.4zM1042 547.4V373.2h1V547.4zM1043 547.4V380.9h1V547.4zM1045 547.4V379.1h1V547.4zM1046 547.4V370.9h1V547.4zM1048 547.4V362.7h1V547.4zM1049 547.4V364.1h1V547.4zM1051 547.4V362.3h1V547.4zM1052 547.4V359.6h1V547.4zM1054 547.4V361.4h1V547.4zM1055 547.4V368.6h1V547.4zM1057 547.4V361.4h1V547.4zM1058 547.4V362.7h1V547.4zM1060 547.4V359.6h1V547.4zM1061 547.4V358.2h1V547.4zM1063 547.4V367.3h1V547.4zM1064 547.4V367.3h1V547.4zM1066 547.4V372.7h1V547.4zM1067 547.4V359.6h1V547.4zM1069 547.4V362.3h1V547.4zM1070 547.4V367.3h1V547.4zM1072 547.4V368.6h1V547.4zM1073 547.4V371.8h1V547.4zM1074 547.4V377.7h1V547.4zM1076 547.4V379.1h1V547.4zM1077 547.4V376.4h1V547.4zM1079 547.4V376.4h1V547.4zM1080 547.4V377.7h1V547.4zM1082 547.4V377.7h1V547.4z" fill="#999"/>
<path d="M130.5 547.9H1082.5" stroke="#ccd6eb" stroke-width="1.7"/>
<g class="xl">
<text transform="translate(135.8 571.4) rotate(-45)" text-anchor="end">Feb 15, 2020</text>
<text transform="translate(166.7 571.4) rotate(-45)" text-anchor="end">Mar 07, 2020</text>
<text transform="translate(197.7 571.4) rotate(-45)" text-anchor="end">Mar 28, 2020</text>
<text transform="translate(228.6 571.4) rotate(-45)" text-anchor="end">Apr 18, 2020</text>
<text transform="translate(259.5 571.4) rotate(-45)" text-anchor="end">May 09, 2020</text>
<text transform="translate(290.4 571.4) rotate(-45)" text-anchor="end">May 30, 2020</text>
<text transform="translate(321.3 571.4) rotate(-45)" text-anchor="end">Jun 20, 2020</text>
<text transform="translate(352.2 571.4) rotate(-45)" text-anchor="end">Jul 11, 2020</text>
<text transform="translate(383.1 571.4) rotate(-45)" text-anchor="end">Aug 01, 2020</text>
<text transform="translate(414.0 571.4) rotate(-45)" text-anchor="end">Aug 22, 2020</text>
<text transform="translate(444.9 571.4) rotate(-45)" text-anchor="end">Sep 12, 2020</text>
<text transform="translate(475.8 571.4) rotate(-45)" text-anchor="end">Oct 03, 2020</text>
<text transform="translate(506.7 571.4) rotate(-45)" text-anchor="end">Oct 24, 2020</text>
<text transform="translate(537.6 571.4) rotate(-45)" text-anchor="end">Nov 14, 2020</text>
<text transform="translate(568.5 571.4) rotate(-45)" text-anchor="end">Dec 05, 2020</text>
<text transform="translate(599.4 571.4) rotate(-45)" text-anchor="end">Dec 26, 2020</text>
<text transform="translate(630.4 571.4) rotate(-45)" text-anchor="end">Jan 16, 2021</text>
<text transform="translate(661.3 571.4) rotate(-45)" text-anchor="end">Feb 06, 2021</text>
<text transform="translate(692.2 571.4) rotate(-45)" text-anchor="end">Feb 27, 2021</text>
<text transform="translate(723.1 571.4) rotate(-45)" text-anchor="end">Mar 20, 2021</text>
<text transform="translate(754.0 571.4) rotate(-45)" text-anchor="end">Apr 10, 2021</text>
<text transform="translate(784.9 571.4) rotate(-45)" text-anchor="end">May 01, 2021</text>
<text transform="translate(815.8 571.4) rotate(-45)" text-anchor="end">May 22, 2021</text>
<text transform="translate(846.7 571.4) rotate(-45)" text-anchor="end">Jun 12, 2021</text>
<text transform="translate(877.6 571.4) rotate(-45)" text-anchor="end">Jul 03, 2021</text>
<text transform="translate(908.5 571.4) rotate(-45)" text-anchor="end">Jul 24, 2021</text>
<text transform="translate(939.4 571.4) rotate(-45)" text-anchor="end">Aug 14, 2021</text>
<text transform="translate(970.3 571.4) rotate(-45)" text-anchor="end">Sep 04, 2021</text>
<text transform="translate(1001.2 571.4) rotate(-45)" text-anchor="end">Sep 25, 2021</text>
<text transform="translate(1032.1 571.4) rotate(-45)" text-anchor="end">Oct 16, 2021</text>
<text transform="translate(1063.1 571.4) rotate(-45)" text-anchor="end">Nov 06, 2021</text>
</g>
<g class="lg">
<circle cx="192.2" cy="691" r="8.8" fill="#999"/>
<text x="212.3" y="698.6" fill="#333" textLength="101.7" lengthAdjust="spacingAndGlyphs">Daily Cases</text>
<path d="M345.2 692.5h24" stroke="#ccc" stroke-width="2.5"/><circle cx="357.2" cy="692.5" r="6" fill="#ccc"/>
<text x="378.6" y="698.6" fill="#ccc" textLength="201.5" lengthAdjust="spacingAndGlyphs">3-day moving average</text>
<path d="M640.0 692.5h24" stroke="#ccc" stroke-width="2.5"/><path d="M652.0 686.5l6 6l-6 6l-6 -6z" fill="#ccc"/>
<text x="673.0" y="698.6" fill="#ccc" textLength="201.5" lengthAdjust="spacingAndGlyphs">7-day moving average</text>
</g>
</svg>
<input type="checkbox" class="cb" style="left:610px;top:687px" aria-label="3-day moving average">
<input type="checkbox" class="cb" style="left:905px;top:687px" aria-label="7-day moving average">
</div>
<div class="see" style="top:742px">See also: <a href="#deaths">Daily Deaths Graph</a></div>
<h3 style="top:854px;letter-spacing:-0.26px">Daily New Deaths in Russia</h3>
<div class="chartbox" style="top:800px">
<svg class="hc" width="1100" height="620" viewBox="0 0 1100 620">
<text class="t" x="558" y="174.3" text-anchor="middle">Daily Deaths</text>
<text class="st" x="558" y="216.8" text-anchor="middle">Deaths per Day</text>
<text class="st" x="558.3" y="239.7" text-anchor="middle" textLength="203.6">Data as of 0:00 GMT+8</text>
<path d="M141.5 268.5H1082.5" stroke="#e4e4e4" stroke-width="1.1"/>
<path d="M141.5 363.0H1082.5" stroke="#e4e4e4" stroke-width="1.1"/>
<path d="M141.5 454.5H1082.5" stroke="#e4e4e4" stroke-width="1.1"/>
<g class="yl" text-anchor="end">
<text x="119.9" y="275.3">1500</text>
<text x="119.9" y="368.3">1000</text>
<text x="119.9" y="459.6">500</text>
<text x="119.9" y="552.2">0</text>
</g>
<text class="yt" transform="translate(58.1 407.8) rotate(-90)" text-anchor="middle">Novel Coronavirus Daily Deaths</text>
<path d="M141.50 547.4L141.50 547.4h1.457L142.96 547.4h1.457L144.41 547.4h1.457L145.87 547.4h1.457L147.33 547.4h1.457L148.79 547.4h1.457L150.24 547.4h1.457L151.70 547.4h1.457L153.16 547.4h1.457L154.61 547.4h1.457L156.07 547.4h1.457L157.53 547.4h1.457L158.99 547.4h1.457L160.44 547.4h1.457L161.90 547.4h1.457L163.36 547.4h1.457L164.81 547.4h1.457L166.27 547.4h1.457L167.73 547.4h1.457L169.19 547.4h1.457L170.64 547.4h1.457L172.10 547.4h1.457L173.56 547.4h1.457L175.01 547.4h1.457L176.47 547.4h1.457L177.93 547.4h1.457L179.39 547.4h1.457L180.84 547.4h1.457L182.30 547.4h1.457L183.76 547.4h1.457L185.21 547.4h1.457L186.67 547.4h1.457L188.13 547.4h1.457L189.58 547.4h1.457L191.04 547.4h1.457L192.50 547.4h1.457L193.96 547.4h1.457L195.41 547.4h1.457L196.87 547.4h1.457L198.33 547.4h1.457L199.78 547.4h1.457L201.24 547.4h1.457L202.70 547.4h1.457L204.16 547.4h1.457L205.61 547.4h1.457L207.07 547.4h1.457L208.53 547.4h1.457L209.98 547.4h1.457L211.44 547.4h1.457L212.90 547.4h1.457L214.36 547.4h1.457L215.81 547.4h1.457L217.27 547.4h1.457L218.73 547.2h1.457L220.18 545.8h1.457L221.64 546.0h1.457L223.10 547.2h1.457L224.56 544.2h1.457L226.01 545.8h1.457L227.47 544.2h1.457L228.93 544.2h1.457L230.38 542.0h1.457L231.84 541.5h1.457L233.30 541.0h1.457L234.76 539.5h1.457L236.21 541.5h1.457L237.67 539.5h1.457L239.13 538.2h1.457L240.58 541.5h1.457L242.04 538.2h1.457L243.50 536.5h1.457L244.96 536.5h1.457L246.41 540.0h1.457L247.87 535.2h1.457L249.33 529.2h1.457L250.78 531.0h1.457L252.24 530.5h1.457L253.70 538.2h1.457L255.16 538.2h1.457L256.61 535.2h1.457L258.07 530.5h1.457L259.53 532.2h1.457L260.98 532.2h1.457L262.44 530.5h1.457L263.90 529.2h1.457L265.36 532.2h1.457L266.81 530.5h1.457L268.27 529.2h1.457L269.73 530.5h1.457L271.18 532.2h1.457L272.64 527.5h1.457L274.10 526.2h1.457L275.56 530.5h1.457L277.01 532.2h1.457L278.47 527.5h1.457L279.93 523.2h1.457L281.38 524.8h1.457L282.84 521.5h1.457L284.30 520.2h1.457L285.75 532.2h1.457L287.21 517.2h1.457L288.67 519.0h1.457L290.13 518.1h1.457L291.58 517.2h1.457L293.04 505.2h1.457L294.50 516.0h1.457L295.95 523.5h1.457L297.41 519.0h1.457L298.87 515.5h1.457L300.33 515.5h1.457L301.78 517.2h1.457L303.24 522.0h1.457L304.70 512.5h1.457L306.15 523.5h1.457L307.61 527.5h1.457L309.07 517.2h1.457L310.53 508.2h1.457L311.98 517.0h1.457L313.44 514.2h1.457L314.90 528.0h1.457L316.35 526.2h1.457L317.81 521.5h1.457L319.27 512.5h1.457L320.73 512.5h1.457L322.18 516.0h1.457L323.64 515.5h1.457L325.10 518.7h1.457L326.55 529.2h1.457L328.01 530.5h1.457L329.47 520.2h1.457L330.93 520.2h1.457L332.38 532.2h1.457L333.84 515.5h1.457L335.30 514.2h1.457L336.75 529.2h1.457L338.21 520.2h1.457L339.67 508.2h1.457L341.13 514.9h1.457L342.58 521.5h1.457L344.04 515.5h1.457L345.50 517.2h1.457L346.95 523.2h1.457L348.41 523.2h1.457L349.87 512.5h1.457L351.33 517.2h1.457L352.78 515.5h1.457L354.24 517.2h1.457L355.70 514.2h1.457L357.15 524.5h1.457L358.61 529.2h1.457L360.07 515.5h1.457L361.53 520.2h1.457L362.98 517.2h1.457L364.44 514.2h1.457L365.90 526.2h1.457L367.35 530.5h1.457L368.81 534.0h1.457L370.27 520.2h1.457L371.73 518.7h1.457L373.18 521.5h1.457L374.64 520.2h1.457L376.10 521.5h1.457L377.55 535.2h1.457L379.01 533.5h1.457L380.47 521.5h1.457L381.92 517.2h1.457L383.38 524.5h1.457L384.84 518.7h1.457L386.30 530.5h1.457L387.75 535.2h1.457L389.21 521.5h1.457L390.67 523.2h1.457L392.12 525.6h1.457L393.58 528.0h1.457L395.04 526.2h1.457L396.50 524.5h1.457L397.95 535.2h1.457L399.41 535.2h1.457L400.87 524.5h1.457L402.32 524.5h1.457L403.78 526.2h1.457L405.24 528.0h1.457L406.70 526.2h1.457L408.15 536.5h1.457L409.61 538.2h1.457L411.07 524.5h1.457L412.52 527.5h1.457L413.98 527.5h1.457L415.44 532.2h1.457L416.90 526.2h1.457L418.35 535.2h1.457L419.81 537.0h1.457L421.27 526.5h1.457L422.72 528.0h1.457L424.18 526.5h1.457L425.64 528.0h1.457L427.10 528.0h1.457L428.55 537.0h1.457L430.01 534.0h1.457L431.47 526.5h1.457L432.92 528.0h1.457L434.38 528.0h1.457L435.84 526.5h1.457L437.30 528.0h1.457L438.75 537.0h1.457L440.21 540.0h1.457L441.67 521.7h1.457L443.12 525.0h1.457L444.58 529.5h1.457L446.04 528.0h1.457L447.50 526.5h1.457L448.95 531.0h1.457L450.41 538.5h1.457L451.87 521.7h1.457L453.32 525.0h1.457L454.78 521.7h1.457L456.24 523.5h1.457L457.70 521.7h1.457L459.15 534.0h1.457L460.61 535.5h1.457L462.07 518.7h1.457L463.52 522.0h1.457L464.98 522.0h1.457L466.44 529.5h1.457L467.90 517.5h1.457L469.35 531.0h1.457L470.81 537.0h1.457L472.27 518.7h1.457L473.72 515.7h1.457L475.18 517.5h1.457L476.64 514.5h1.457L478.09 517.5h1.457L479.55 529.5h1.457L481.01 528.0h1.457L482.47 514.5h1.457L483.92 511.5h1.457L485.38 513.0h1.457L486.84 511.5h1.457L488.29 513.0h1.457L489.75 522.0h1.457L491.21 524.2h1.457L492.67 526.5h1.457L494.12 503.7h1.457L495.58 496.5h1.457L497.04 505.5h1.457L498.49 497.7h1.457L499.95 514.5h1.457L501.41 516.0h1.457L502.87 499.5h1.457L504.32 490.5h1.457L505.78 495.0h1.457L507.24 496.5h1.457L508.69 493.5h1.457L510.15 506.7h1.457L511.61 508.5h1.457L513.07 490.5h1.457L514.52 484.5h1.457L515.98 481.5h1.457L517.44 483.0h1.457L518.89 487.5h1.457L520.35 504.0h1.457L521.81 505.5h1.457L523.27 483.0h1.457L524.72 476.7h1.457L526.18 495.0h1.457L527.64 478.5h1.457L529.09 481.5h1.457L530.55 496.5h1.457L532.01 498.5h1.457L533.47 500.5h1.457L534.92 481.5h1.457L536.38 469.0h1.457L537.84 467.5h1.457L539.29 472.0h1.457L540.75 476.5h1.457L542.21 484.5h1.457L543.67 493.5h1.457L545.12 466.0h1.457L546.58 464.5h1.457L548.04 463.0h1.457L549.49 461.5h1.457L550.95 475.0h1.457L552.41 481.0h1.457L553.87 457.0h1.457L555.32 454.0h1.457L556.78 451.0h1.457L558.24 457.0h1.457L559.69 454.0h1.457L561.15 463.0h1.457L562.61 481.0h1.457L564.07 443.5h1.457L565.52 439.0h1.457L566.98 446.5h1.457L568.44 443.5h1.457L569.89 454.0h1.457L571.35 464.5h1.457L572.81 465.0h1.457L574.26 445.0h1.457L575.72 445.0h1.457L577.18 445.0h1.457L578.64 434.5h1.457L580.09 445.0h1.457L581.55 458.5h1.457L583.01 466.0h1.457L584.46 442.0h1.457L585.92 437.5h1.457L587.38 440.5h1.457L588.84 436.0h1.457L590.29 440.5h1.457L591.75 454.0h1.457L593.21 455.5h1.457L594.66 457.0h1.457L596.12 445.0h1.457L597.58 446.5h1.457L599.04 431.5h1.457L600.49 443.5h1.457L601.95 446.5h1.457L603.41 458.5h1.457L604.86 445.0h1.457L606.32 437.5h1.457L607.78 439.0h1.457L609.24 449.5h1.457L610.69 466.0h1.457L612.15 455.5h1.457L613.61 460.0h1.457L615.06 452.5h1.457L616.52 466.0h1.457L617.98 455.5h1.457L619.44 464.5h1.457L620.89 461.5h1.457L622.35 464.5h1.457L623.81 467.5h1.457L625.26 451.0h1.457L626.72 443.5h1.457L628.18 443.5h1.457L629.64 446.5h1.457L631.09 439.0h1.457L632.55 460.0h1.457L634.01 461.5h1.457L635.46 440.5h1.457L636.92 437.5h1.457L638.38 436.0h1.457L639.84 436.0h1.457L641.29 440.5h1.457L642.75 445.0h1.457L644.21 457.0h1.457L645.66 465.0h1.457L647.12 443.5h1.457L648.58 439.0h1.457L650.04 442.0h1.457L651.49 449.5h1.457L652.95 454.0h1.457L654.41 467.5h1.457L655.86 449.5h1.457L657.32 451.0h1.457L658.78 452.5h1.457L660.23 451.0h1.457L661.69 457.0h1.457L663.15 469.0h1.457L664.61 473.5h1.457L666.06 451.0h1.457L667.52 449.5h1.457L668.98 446.5h1.457L670.43 454.0h1.457L671.89 455.5h1.457L673.35 469.0h1.457L674.81 475.0h1.457L676.26 463.0h1.457L677.72 461.5h1.457L679.18 460.0h1.457L680.63 461.5h1.457L682.09 460.0h1.457L683.55 472.0h1.457L685.01 485.5h1.457L686.46 472.0h1.457L687.92 478.0h1.457L689.38 466.0h1.457L690.83 469.0h1.457L692.29 468.2h1.457L693.75 467.5h1.457L695.21 478.0h1.457L696.66 487.0h1.457L698.12 467.5h1.457L699.58 464.5h1.457L701.03 460.0h1.457L702.49 463.0h1.457L703.95 467.5h1.457L705.41 478.0h1.457L706.86 487.0h1.457L708.32 463.0h1.457L709.78 463.0h1.457L711.23 458.5h1.457L712.69 460.0h1.457L714.15 475.0h1.457L715.61 473.5h1.457L717.06 466.0h1.457L718.52 469.0h1.457L719.98 463.0h1.457L721.43 466.0h1.457L722.89 476.5h1.457L724.35 479.5h1.457L725.81 481.0h1.457L727.26 469.0h1.457L728.72 475.0h1.457L730.18 476.5h1.457L731.63 473.5h1.457L733.09 476.5h1.457L734.55 487.0h1.457L736.01 494.5h1.457L737.46 473.5h1.457L738.92 473.5h1.457L740.38 478.0h1.457L741.83 475.0h1.457L743.29 478.0h1.457L744.75 482.5h1.457L746.21 484.0h1.457L747.66 485.5h1.457L749.12 476.5h1.457L750.58 479.5h1.457L752.03 481.0h1.457L753.49 473.5h1.457L754.95 473.5h1.457L756.40 485.5h1.457L757.86 485.5h1.457L759.32 475.0h1.457L760.78 475.0h1.457L762.23 475.0h1.457L763.69 475.0h1.457L765.15 476.5h1.457L766.60 484.0h1.457L768.06 478.0h1.457L769.52 475.0h1.457L770.98 475.0h1.457L772.43 475.0h1.457L773.89 475.0h1.457L775.35 487.0h1.457L776.80 482.5h1.457L778.26 476.5h1.457L779.72 476.5h1.457L781.18 481.0h1.457L782.63 475.0h1.457L784.09 476.5h1.457L785.55 485.5h1.457L787.00 487.0h1.457L788.46 485.5h1.457L789.92 482.5h1.457L791.38 484.0h1.457L792.83 479.5h1.457L794.29 479.5h1.457L795.75 487.0h1.457L797.20 488.5h1.457L798.66 487.0h1.457L800.12 482.5h1.457L801.58 476.5h1.457L803.03 476.5h1.457L804.49 476.5h1.457L805.95 481.0h1.457L807.40 476.5h1.457L808.86 481.0h1.457L810.32 476.5h1.457L811.78 475.0h1.457L813.23 478.0h1.457L814.69 476.5h1.457L816.15 482.5h1.457L817.60 490.0h1.457L819.06 476.5h1.457L820.52 473.5h1.457L821.98 473.5h1.457L823.43 473.5h1.457L824.89 475.0h1.457L826.35 482.5h1.457L827.80 485.5h1.457L829.26 479.5h1.457L830.72 475.0h1.457L832.18 476.5h1.457L833.63 479.5h1.457L835.09 475.0h1.457L836.55 484.0h1.457L838.00 487.0h1.457L839.46 478.0h1.457L840.92 475.0h1.457L842.38 478.0h1.457L843.83 475.0h1.457L845.29 475.0h1.457L846.75 482.5h1.457L848.20 479.5h1.457L849.66 478.0h1.457L851.12 475.0h1.457L852.57 472.0h1.457L854.03 468.2h1.457L855.49 464.5h1.457L856.95 463.0h1.457L858.40 466.0h1.457L859.86 467.5h1.457L861.32 447.0h1.457L862.77 444.0h1.457L864.23 438.0h1.457L865.69 434.0h1.457L867.15 438.0h1.457L868.60 436.5h1.457L870.06 429.0h1.457L871.52 424.5h1.457L872.97 424.5h1.457L874.43 423.0h1.457L875.89 419.5h1.457L877.35 425.0h1.457L878.80 427.5h1.457L880.26 412.0h1.457L881.72 415.0h1.457L883.17 412.0h1.457L884.63 414.0h1.457L886.09 409.0h1.457L887.55 410.5h1.457L889.00 416.5h1.457L890.46 404.5h1.457L891.92 403.0h1.457L893.37 401.5h1.457L894.83 400.0h1.457L896.29 403.0h1.457L897.75 407.5h1.457L899.20 415.0h1.457L900.66 403.0h1.457L902.12 403.0h1.457L903.57 401.5h1.457L905.03 401.5h1.457L906.49 401.5h1.457L907.95 400.0h1.457L909.40 404.5h1.457L910.86 413.5h1.457L912.32 404.5h1.457L913.77 400.0h1.457L915.23 401.5h1.457L916.69 401.5h1.457L918.15 403.0h1.457L919.60 403.0h1.457L921.06 403.0h1.457L922.52 403.0h1.457L923.97 401.5h1.457L925.43 401.0h1.457L926.89 401.5h1.457L928.35 403.0h1.457L929.80 406.0h1.457L931.26 401.5h1.457L932.72 400.0h1.457L934.17 398.5h1.457L935.63 397.0h1.457L937.09 397.0h1.457L938.55 397.0h1.457L940.00 400.0h1.457L941.46 400.0h1.457L942.92 400.0h1.457L944.37 401.5h1.457L945.83 403.0h1.457L947.29 401.5h1.457L948.74 407.5h1.457L950.20 404.5h1.457L951.66 401.5h1.457L953.12 398.5h1.457L954.57 397.0h1.457L956.03 399.2h1.457L957.49 401.5h1.457L958.94 400.0h1.457L960.40 401.5h1.457L961.86 401.5h1.457L963.32 402.0h1.457L964.77 403.0h1.457L966.23 400.1h1.457L967.69 401.4h1.457L969.14 401.4h1.457L970.60 403.0h1.457L972.06 401.4h1.457L973.52 401.4h1.457L974.97 401.4h1.457L976.43 403.0h1.457L977.89 401.4h1.457L979.34 403.0h1.457L980.80 414.9h1.457L982.26 404.6h1.457L983.72 401.4h1.457L985.17 401.4h1.457L986.63 401.4h1.457L988.09 400.1h1.457L989.54 401.4h1.457L991.00 404.6h1.457L992.46 398.5h1.457L993.92 397.3h1.457L995.37 397.3h1.457L996.83 395.6h1.457L998.29 397.3h1.457L999.74 400.1h1.457L1001.20 404.6h1.457L1002.66 391.1h1.457L1004.12 389.5h1.457L1005.57 388.3h1.457L1007.03 385.4h1.457L1008.49 385.4h1.457L1009.94 384.6h1.457L1011.40 383.8h1.457L1012.86 385.4h1.457L1014.32 383.4h1.457L1015.77 376.4h1.457L1017.23 378.1h1.457L1018.69 370.3h1.457L1020.14 370.3h1.457L1021.60 371.9h1.457L1023.06 369.1h1.457L1024.52 367.4h1.457L1025.97 365.8h1.457L1027.43 364.1h1.457L1028.89 362.6h1.457L1030.34 364.4h1.457L1031.80 364.4h1.457L1033.26 361.4h1.457L1034.72 358.2h1.457L1036.17 356.4h1.457L1037.63 352.4h1.457L1039.09 349.4h1.457L1040.54 350.9h1.457L1042.00 350.6h1.457L1043.46 345.4h1.457L1044.91 340.4h1.457L1046.37 334.2h1.457L1047.83 334.2h1.457L1049.29 334.2h1.457L1050.74 334.2h1.457L1052.20 336.0h1.457L1053.66 331.3h1.457L1055.11 328.4h1.457L1056.57 328.4h1.457L1058.03 328.4h1.457L1059.49 328.4h1.457L1060.94 328.4h1.457L1062.40 331.3h1.457L1063.86 328.4h1.457L1065.31 325.4h1.457L1066.77 319.3h1.457L1068.23 319.3h1.457L1069.69 320.4h1.457L1071.14 319.3h1.457L1072.60 325.1h1.457L1074.06 319.3h1.457L1075.51 317.4h1.457L1076.97 317.8h1.457L1078.43 316.4h1.457L1079.89 316.0h1.457L1081.34 317.4h1.457L1082.80 547.4z" fill="#b7b7b7"/>
<path d="M219 547.4V547.2h1V547.4zM221 547.4V545.8h1V547.4zM222 547.4V546.0h1V547.4zM224 547.4V547.2h1V547.4zM225 547.4V544.2h1V547.4zM227 547.4V545.8h1V547.4zM228 547.4V544.2h1V547.4zM229 547.4V544.2h1V547.4zM231 547.4V542.0h1V547.4zM232 547.4V541.5h1V547.4zM234 547.4V541.0h1V547.4zM235 547.4V539.5h1V547.4zM237 547.4V541.5h1V547.4zM238 547.4V539.5h1V547.4zM240 547.4V538.2h1V547.4zM241 547.4V541.5h1V547.4zM243 547.4V538.2h1V547.4zM244 547.4V536.5h1V547.4zM245 547.4V536.5h1V547.4zM247 547.4V540.0h1V547.4zM248 547.4V535.2h1V547.4zM250 547.4V529.2h1V547.4zM251 547.4V531.0h1V547.4zM253 547.4V530.5h1V547.4zM254 547.4V538.2h1V547.4zM256 547.4V538.2h1V547.4zM257 547.4V535.2h1V547.4zM259 547.4V530.5h1V547.4zM260 547.4V532.2h1V547.4zM261 547.4V532.2h1V547.4zM263 547.4V530.5h1V547.4zM264 547.4V529.2h1V547.4zM266 547.4V532.2h1V547.4zM267 547.4V530.5h1V547.4zM269 547.4V529.2h1V547.4zM270 547.4V530.5h1V547.4zM272 547.4V532.2h1V547.4zM273 547.4V527.5h1V547.4zM275 547.4V526.2h1V547.4zM276 547.4V530.5h1V547.4zM278 547.4V532.2h1V547.4zM279 547.4V527.5h1V547.4zM280 547.4V523.2h1V547.4zM282 547.4V524.8h1V547.4zM283 547.4V521.5h1V547.4zM285 547.4V520.2h1V547.4zM286 547.4V532.2h1V547.4zM288 547.4V517.2h1V547.4zM289 547.4V519.0h1V547.4zM291 547.4V518.1h1V547.4zM292 547.4V517.2h1V547.4zM294 547.4V505.2h1V547.4zM295 547.4V516.0h1V547.4zM296 547.4V523.5h1V547.4zM298 547.4V519.0h1V547.4zM299 547.4V515.5h1V547.4zM301 547.4V515.5h1V547.4zM302 547.4V517.2h1V547.4zM304 547.4V522.0h1V547.4zM305 547.4V512.5h1V547.4zM307 547.4V523.5h1V547.4zM308 547.4V527.5h1V547.4zM310 547.4V517.2h1V547.4zM311 547.4V508.2h1V547.4zM312 547.4V517.0h1V547.4zM314 547.4V514.2h1V547.4zM315 547.4V528.0h1V547.4zM317 547.4V526.2h1V547.4zM318 547.4V521.5h1V547.4zM320 547.4V512.5h1V547.4zM321 547.4V512.5h1V547.4zM323 547.4V516.0h1V547.4zM324 547.4V515.5h1V547.4zM326 547.4V518.7h1V547.4zM327 547.4V529.2h1V547.4zM329 547.4V530.5h1V547.4zM330 547.4V520.2h1V547.4zM331 547.4V520.2h1V547.4zM333 547.4V532.2h1V547.4zM334 547.4V515.5h1V547.4zM336 547.4V514.2h1V547.4zM337 547.4V529.2h1V547.4zM339 547.4V520.2h1V547.4zM340 547.4V508.2h1V547.4zM342 547.4V514.9h1V547.4zM343 547.4V521.5h1V547.4zM345 547.4V515.5h1V547.4zM346 547.4V517.2h1V547.4zM347 547.4V523.2h1V547.4zM349 547.4V523.2h1V547.4zM350 547.4V512.5h1V547.4zM352 547.4V517.2h1V547.4zM353 547.4V515.5h1V547.4zM355 547.4V517.2h1V547.4zM356 547.4V514.2h1V547.4zM358 547.4V524.5h1V547.4zM359 547.4V529.2h1V547.4zM361 547.4V515.5h1V547.4zM362 547.4V520.2h1V547.4zM363 547.4V517.2h1V547.4zM365 547.4V514.2h1V547.4zM366 547.4V526.2h1V547.4zM368 547.4V530.5h1V547.4zM369 547.4V534.0h1V547.4zM371 547.4V520.2h1V547.4zM372 547.4V518.7h1V547.4zM374 547.4V521.5h1V547.4zM375 547.4V520.2h1V547.4zM377 547.4V521.5h1V547.4zM378 547.4V535.2h1V547.4zM380 547.4V533.5h1V547.4zM381 547.4V521.5h1V547.4zM382 547.4V517.2h1V547.4zM384 547.4V524.5h1V547.4zM385 547.4V518.7h1V547.4zM387 547.4V530.5h1V547.4zM388 547.4V535.2h1V547.4zM390 547.4V521.5h1V547.4zM391 547.4V523.2h1V547.4zM393 547.4V525.6h1V547.4zM394 547.4V528.0h1V547.4zM396 547.4V526.2h1V547.4zM397 547.4V524.5h1V547.4zM398 547.4V535.2h1V547.4zM400 547.4V535.2h1V547.4zM401 547.4V524.5h1V547.4zM403 547.4V524.5h1V547.4zM404 547.4V526.2h1V547.4zM406 547.4V528.0h1V547.4zM407 547.4V526.2h1V547.4zM409 547.4V536.5h1V547.4zM410 547.4V538.2h1V547.4zM412 547.4V524.5h1V547.4zM413 547.4V527.5h1V547.4zM414 547.4V527.5h1V547.4zM416 547.4V532.2h1V547.4zM417 547.4V526.2h1V547.4zM419 547.4V535.2h1V547.4zM420 547.4V537.0h1V547.4zM422 547.4V526.5h1V547.4zM423 547.4V528.0h1V547.4zM425 547.4V526.5h1V547.4zM426 547.4V528.0h1V547.4zM428 547.4V528.0h1V547.4zM429 547.4V537.0h1V547.4zM431 547.4V534.0h1V547.4zM432 547.4V526.5h1V547.4zM433 547.4V528.0h1V547.4zM435 547.4V528.0h1V547.4zM436 547.4V526.5h1V547.4zM438 547.4V528.0h1V547.4zM439 547.4V537.0h1V547.4zM441 547.4V540.0h1V547.4zM442 547.4V521.7h1V547.4zM444 547.4V525.0h1V547.4zM445 547.4V529.5h1V547.4zM447 547.4V528.0h1V547.4zM448 547.4V526.5h1V547.4zM449 547.4V531.0h1V547.4zM451 547.4V538.5h1V547.4zM452 547.4V521.7h1V547.4zM454 547.4V525.0h1V547.4zM455 547.4V521.7h1V547.4zM457 547.4V523.5h1V547.4zM458 547.4V521.7h1V547.4zM460 547.4V534.0h1V547.4zM461 547.4V535.5h1V547.4zM463 547.4V518.7h1V547.4zM464 547.4V522.0h1V547.4zM465 547.4V522.0h1V547.4zM467 547.4V529.5h1V547.4zM468 547.4V517.5h1V547.4zM470 547.4V531.0h1V547.4zM471 547.4V537.0h1V547.4zM473 547.4V518.7h1V547.4zM474 547.4V515.7h1V547.4zM476 547.4V517.5h1V547.4zM477 547.4V514.5h1V547.4zM479 547.4V517.5h1V547.4zM480 547.4V529.5h1V547.4zM482 547.4V528.0h1V547.4zM483 547.4V514.5h1V547.4zM484 547.4V511.5h1V547.4zM486 547.4V513.0h1V547.4zM487 547.4V511.5h1V547.4zM489 547.4V513.0h1V547.4zM490 547.4V522.0h1V547.4zM492 547.4V524.2h1V547.4zM493 547.4V526.5h1V547.4zM495 547.4V503.7h1V547.4zM496 547.4V496.5h1V547.4zM498 547.4V505.5h1V547.4zM499 547.4V497.7h1V547.4zM500 547.4V514.5h1V547.4zM502 547.4V516.0h1V547.4zM503 547.4V499.5h1V547.4zM505 547.4V490.5h1V547.4zM506 547.4V495.0h1V547.4zM508 547.4V496.5h1V547.4zM509 547.4V493.5h1V547.4zM511 547.4V506.7h1V547.4zM512 547.4V508.5h1V547.4zM514 547.4V490.5h1V547.4zM515 547.4V484.5h1V547.4zM516 547.4V481.5h1V547.4zM518 547.4V483.0h1V547.4zM519 547.4V487.5h1V547.4zM521 547.4V504.0h1V547.4zM522 547.4V505.5h1V547.4zM524 547.4V483.0h1V547.4zM525 547.4V476.7h1V547.4zM527 547.4V495.0h1V547.4zM528 547.4V478.5h1V547.4zM530 547.4V481.5h1V547.4zM531 547.4V496.5h1V547.4zM533 547.4V498.5h1V547.4zM534 547.4V500.5h1V547.4zM535 547.4V481.5h1V547.4zM537 547.4V469.0h1V547.4zM538 547.4V467.5h1V547.4zM540 547.4V472.0h1V547.4zM541 547.4V476.5h1V547.4zM543 547.4V484.5h1V547.4zM544 547.4V493.5h1V547.4zM546 547.4V466.0h1V547.4zM547 547.4V464.5h1V547.4zM549 547.4V463.0h1V547.4zM550 547.4V461.5h1V547.4zM551 547.4V475.0h1V547.4zM553 547.4V481.0h1V547.4zM554 547.4V457.0h1V547.4zM556 547.4V454.0h1V547.4zM557 547.4V451.0h1V547.4zM559 547.4V457.0h1V547.4zM560 547.4V454.0h1V547.4zM562 547.4V463.0h1V547.4zM563 547.4V481.0h1V547.4zM565 547.4V443.5h1V547.4zM566 547.4V439.0h1V547.4zM567 547.4V446.5h1V547.4zM569 547.4V443.5h1V547.4zM570 547.4V454.0h1V547.4zM572 547.4V464.5h1V547.4zM573 547.4V465.0h1V547.4zM575 547.4V445.0h1V547.4zM576 547.4V445.0h1V547.4zM578 547.4V445.0h1V547.4zM579 547.4V434.5h1V547.4zM581 547.4V445.0h1V547.4zM582 547.4V458.5h1V547.4zM584 547.4V466.0h1V547.4zM585 547.4V442.0h1V547.4zM586 547.4V437.5h1V547.4zM588 547.4V440.5h1V547.4zM589 547.4V436.0h1V547.4zM591 547.4V440.5h1V547.4zM592 547.4V454.0h1V547.4zM594 547.4V455.5h1V547.4zM595 547.4V457.0h1V547.4zM597 547.4V445.0h1V547.4zM598 547.4V446.5h1V547.4zM600 547.4V431.5h1V547.4zM601 547.4V443.5h1V547.4zM602 547.4V446.5h1V547.4zM604 547.4V458.5h1V547.4zM605 547.4V445.0h1V547.4zM607 547.4V437.5h1V547.4zM608 547.4V439.0h1V547.4zM610 547.4V449.5h1V547.4zM611 547.4V466.0h1V547.4zM613 547.4V455.5h1V547.4zM614 547.4V460.0h1V547.4zM616 547.4V452.5h1V547.4zM617 547.4V466.0h1V547.4zM618 547.4V455.5h1V547.4zM620 547.4V464.5h1V547.4zM621 547.4V461.5h1V547.4zM623 547.4V464.5h1V547.4zM624 547.4V467.5h1V547.4zM626 547.4V451.0h1V547.4zM627 547.4V443.5h1V547.4zM629 547.4V443.5h1V547.4zM630 547.4V446.5h1V547.4zM632 547.4V439.0h1V547.4zM633 547.4V460.0h1V547.4zM635 547.4V461.5h1V547.4zM636 547.4V440.5h1V547.4zM637 547.4V437.5h1V547.4zM639 547.4V436.0h1V547.4zM640 547.4V436.0h1V547.4zM642 547.4V440.5h1V547.4zM643 547.4V445.0h1V547.4zM645 547.4V457.0h1V547.4zM646 547.4V465.0h1V547.4zM648 547.4V443.5h1V547.4zM649 547.4V439.0h1V547.4zM651 547.4V442.0h1V547.4zM652 547.4V449.5h1V547.4zM653 547.4V454.0h1V547.4zM655 547.4V467.5h1V547.4zM656 547.4V449.5h1V547.4zM658 547.4V451.0h1V547.4zM659 547.4V452.5h1V547.4zM661 547.4V451.0h1V547.4zM662 547.4V457.0h1V547.4zM664 547.4V469.0h1V547.4zM665 547.4V473.5h1V547.4zM667 547.4V451.0h1V547.4zM668 547.4V449.5h1V547.4zM669 547.4V446.5h1V547.4zM671 547.4V454.0h1V547.4zM672 547.4V455.5h1V547.4zM674 547.4V469.0h1V547.4zM675 547.4V475.0h1V547.4zM677 547.4V463.0h1V547.4zM678 547.4V461.5h1V547.4zM680 547.4V460.0h1V547.4zM681 547.4V461.5h1V547.4zM683 547.4V460.0h1V547.4zM684 547.4V472.0h1V547.4zM686 547.4V485.5h1V547.4zM687 547.4V472.0h1V547.4zM688 547.4V478.0h1V547.4zM690 547.4V466.0h1V547.4zM691 547.4V469.0h1V547.4zM693 547.4V468.2h1V547.4zM694 547.4V467.5h1V547.4zM696 547.4V478.0h1V547.4zM697 547.4V487.0h1V547.4zM699 547.4V467.5h1V547.4zM700 547.4V464.5h1V547.4zM702 547.4V460.0h1V547.4zM703 547.4V463.0h1V547.4zM704 547.4V467.5h1V547.4zM706 547.4V478.0h1V547.4zM707 547.4V487.0h1V547.4zM709 547.4V463.0h1V547.4zM710 547.4V463.0h1V547.4zM712 547.4V458.5h1V547.4zM713 547.4V460.0h1V547.4zM715 547.4V475.0h1V547.4zM716 547.4V473.5h1V547.4zM718 547.4V466.0h1V547.4zM719 547.4V469.0h1V547.4zM720 547.4V463.0h1V547.4zM722 547.4V466.0h1V547.4zM723 547.4V476.5h1V547.4zM725 547.4V479.5h1V547.4zM726 547.4V481.0h1V547.4zM728 547.4V469.0h1V547.4zM729 547.4V475.0h1V547.4zM731 547.4V476.5h1V547.4zM732 547.4V473.5h1V547.4zM734 547.4V476.5h1V547.4zM735 547.4V487.0h1V547.4zM737 547.4V494.5h1V547.4zM738 547.4V473.5h1V547.4zM739 547.4V473.5h1V547.4zM741 547.4V478.0h1V547.4zM742 547.4V475.0h1V547.4zM744 547.4V478.0h1V547.4zM745 547.4V482.5h1V547.4zM747 547.4V484.0h1V547.4zM748 547.4V485.5h1V547.4zM750 547.4V476.5h1V547.4zM751 547.4V479.5h1V547.4zM753 547.4V481.0h1V547.4zM754 547.4V473.5h1V547.4zM755 547.4V473.5h1V547.4zM757 547.4V485.5h1V547.4zM758 547.4V485.5h1V547.4zM760 547.4V475.0h1V547.4zM761 547.4V475.0h1V547.4zM763 547.4V475.0h1V547.4zM764 547.4V475.0h1V547.4zM766 547.4V476.5h1V547.4zM767 547.4V484.0h1V547.4zM769 547.4V478.0h1V547.4zM770 547.4V475.0h1V547.4zM771 547.4V475.0h1V547.4zM773 547.4V475.0h1V547.4zM774 547.4V475.0h1V547.4zM776 547.4V487.0h1V547.4zM777 547.4V482.5h1V547.4zM779 547.4V476.5h1V547.4zM780 547.4V476.5h1V547.4zM782 547.4V481.0h1V547.4zM783 547.4V475.0h1V547.4zM785 547.4V476.5h1V547.4zM786 547.4V485.5h1V547.4zM788 547.4V487.0h1V547.4zM789 547.4V485.5h1V547.4zM790 547.4V482.5h1V547.4zM792 547.4V484.0h1V547.4zM793 547.4V479.5h1V547.4zM795 547.4V479.5h1V547.4zM796 547.4V487.0h1V547.4zM798 547.4V488.5h1V547.4zM799 547.4V487.0h1V547.4zM801 547.4V482.5h1V547.4zM802 547.4V476.5h1V547.4zM804 547.4V476.5h1V547.4zM805 547.4V476.5h1V547.4zM806 547.4V481.0h1V547.4zM808 547.4V476.5h1V547.4zM809 547.4V481.0h1V547.4zM811 547.4V476.5h1V547.4zM812 547.4V475.0h1V547.4zM814 547.4V478.0h1V547.4zM815 547.4V476.5h1V547.4zM817 547.4V482.5h1V547.4zM818 547.4V490.0h1V547.4zM820 547.4V476.5h1V547.4zM821 547.4V473.5h1V547.4zM822 547.4V473.5h1V547.4zM824 547.4V473.5h1V547.4zM825 547.4V475.0h1V547.4zM827 547.4V482.5h1V547.4zM828 547.4V485.5h1V547.4zM830 547.4V479.5h1V547.4zM831 547.4V475.0h1V547.4zM833 547.4V476.5h1V547.4zM834 547.4V479.5h1V547.4zM836 547.4V475.0h1V547.4zM837 547.4V484.0h1V547.4zM839 547.4V487.0h1V547.4zM840 547.4V478.0h1V547.4zM841 547.4V475.0h1V547.4zM843 547.4V478.0h1V547.4zM844 547.4V475.0h1V547.4zM846 547.4V475.0h1V547.4zM847 547.4V482.5h1V547.4zM849 547.4V479.5h1V547.4zM850 547.4V478.0h1V547.4zM852 547.4V475.0h1V547.4zM853 547.4V472.0h1V547.4zM855 547.4V468.2h1V547.4zM856 547.4V464.5h1V547.4zM857 547.4V463.0h1V547.4zM859 547.4V466.0h1V547.4zM860 547.4V467.5h1V547.4zM862 547.4V447.0h1V547.4zM863 547.4V444.0h1V547.4zM865 547.4V438.0h1V547.4zM866 547.4V434.0h1V547.4zM868 547.4V438.0h1V547.4zM869 547.4V436.5h1V547.4zM871 547.4V429.0h1V547.4zM872 547.4V424.5h1V547.4zM873 547.4V424.5h1V547.4zM875 547.4V423.0h1V547.4zM876 547.4V419.5h1V547.4zM878 547.4V425.0h1V547.4zM879 547.4V427.5h1V547.4zM881 547.4V412.0h1V547.4zM882 547.4V415.0h1V547.4zM884 547.4V412.0h1V547.4zM885 547.4V414.0h1V547.4zM887 547.4V409.0h1V547.4zM888 547.4V410.5h1V547.4zM890 547.4V416.5h1V547.4zM891 547.4V404.5h1V547.4zM892 547.4V403.0h1V547.4zM894 547.4V401.5h1V547.4zM895 547.4V400.0h1V547.4zM897 547.4V403.0h1V547.4zM898 547.4V407.5h1V547.4zM900 547.4V415.0h1V547.4zM901 547.4V403.0h1V547.4zM903 547.4V403.0h1V547.4zM904 547.4V401.5h1V547.4zM906 547.4V401.5h1V547.4zM907 547.4V401.5h1V547.4zM908 547.4V400.0h1V547.4zM910 547.4V404.5h1V547.4zM911 547.4V413.5h1V547.4zM913 547.4V404.5h1V547.4zM914 547.4V400.0h1V547.4zM916 547.4V401.5h1V547.4zM917 547.4V401.5h1V547.4zM919 547.4V403.0h1V547.4zM920 547.4V403.0h1V547.4zM922 547.4V403.0h1V547.4zM923 547.4V403.0h1V547.4zM924 547.4V401.5h1V547.4zM926 547.4V401.0h1V547.4zM927 547.4V401.5h1V547.4zM929 547.4V403.0h1V547.4zM930 547.4V406.0h1V547.4zM932 547.4V401.5h1V547.4zM933 547.4V400.0h1V547.4zM935 547.4V398.5h1V547.4zM936 547.4V397.0h1V547.4zM938 547.4V397.0h1V547.4zM939 547.4V397.0h1V547.4zM941 547.4V400.0h1V547.4zM942 547.4V400.0h1V547.4zM943 547.4V400.0h1V547.4zM945 547.4V401.5h1V547.4zM946 547.4V403.0h1V547.4zM948 547.4V401.5h1V547.4zM949 547.4V407.5h1V547.4zM951 547.4V404.5h1V547.4zM952 547.4V401.5h1V547.4zM954 547.4V398.5h1V547.4zM955 547.4V397.0h1V547.4zM957 547.4V399.2h1V547.4zM958 547.4V401.5h1V547.4zM959 547.4V400.0h1V547.4zM961 547.4V401.5h1V547.4zM962 547.4V401.5h1V547.4zM964 547.4V402.0h1V547.4zM965 547.4V403.0h1V547.4zM967 547.4V400.1h1V547.4zM968 547.4V401.4h1V547.4zM970 547.4V401.4h1V547.4zM971 547.4V403.0h1V547.4zM973 547.4V401.4h1V547.4zM974 547.4V401.4h1V547.4zM975 547.4V401.4h1V547.4zM977 547.4V403.0h1V547.4zM978 547.4V401.4h1V547.4zM980 547.4V403.0h1V547.4zM981 547.4V414.9h1V547.4zM983 547.4V404.6h1V547.4zM984 547.4V401.4h1V547.4zM986 547.4V401.4h1V547.4zM987 547.4V401.4h1V547.4zM989 547.4V400.1h1V547.4zM990 547.4V401.4h1V547.4zM992 547.4V404.6h1V547.4zM993 547.4V398.5h1V547.4zM994 547.4V397.3h1V547.4zM996 547.4V397.3h1V547.4zM997 547.4V395.6h1V547.4zM999 547.4V397.3h1V547.4zM1000 547.4V400.1h1V547.4zM1002 547.4V404.6h1V547.4zM1003 547.4V391.1h1V547.4zM1005 547.4V389.5h1V547.4zM1006 547.4V388.3h1V547.4zM1008 547.4V385.4h1V547.4zM1009 547.4V385.4h1V547.4zM1010 547.4V384.6h1V547.4zM1012 547.4V383.8h1V547.4zM1013 547.4V385.4h1V547.4zM1015 547.4V383.4h1V547.4zM1016 547.4V376.4h1V547.4zM1018 547.4V378.1h1V547.4zM1019 547.4V370.3h1V547.4zM1021 547.4V370.3h1V547.4zM1022 547.4V371.9h1V547.4zM1024 547.4V369.1h1V547.4zM1025 547.4V367.4h1V547.4zM1026 547.4V365.8h1V547.4zM1028 547.4V364.1h1V547.4zM1029 547.4V362.6h1V547.4zM1031 547.4V364.4h1V547.4zM1032 547.4V364.4h1V547.4zM1034 547.4V361.4h1V547.4zM1035 547.4V358.2h1V547.4zM1037 547.4V356.4h1V547.4zM1038 547.4V352.4h1V547.4zM1040 547.4V349.4h1V547.4zM1041 547.4V350.9h1V547.4zM1043 547.4V350.6h1V547.4zM1044 547.4V345.4h1V547.4zM1045 547.4V340.4h1V547.4zM1047 547.4V334.2h1V547.4zM1048 547.4V334.2h1V547.4zM1050 547.4V334.2h1V547.4zM1051 547.4V334.2h1V547.4zM1053 547.4V336.0h1V547.4zM1054 547.4V331.3h1V547.4zM1056 547.4V328.4h1V547.4zM1057 547.4V328.4h1V547.4zM1059 547.4V328.4h1V547.4zM1060 547.4V328.4h1V547.4zM1061 547.4V328.4h1V547.4zM1063 547.4V331.3h1V547.4zM1064 547.4V328.4h1V547.4zM1066 547.4V325.4h1V547.4zM1067 547.4V319.3h1V547.4zM1069 547.4V319.3h1V547.4zM1070 547.4V320.4h1V547.4zM1072 547.4V319.3h1V547.4zM1073 547.4V325.1h1V547.4zM1075 547.4V319.3h1V547.4zM1076 547.4V317.4h1V547.4zM1077 547.4V317.8h1V547.4zM1079 547.4V316.4h1V547.4zM1080 547.4V316.0h1V547.4zM1082 547.4V317.4h1V547.4z" fill="#999"/>
<path d="M141.5 547.9H1082.5" stroke="#ccd6eb" stroke-width="1.7"/>
<g class="xl">
<text transform="translate(146.5 571.4) rotate(-45)" text-anchor="end">Feb 15, 2020</text>
<text transform="translate(177.1 571.4) rotate(-45)" text-anchor="end">Mar 07, 2020</text>
<text transform="translate(207.6 571.4) rotate(-45)" text-anchor="end">Mar 28, 2020</text>
<text transform="translate(238.2 571.4) rotate(-45)" text-anchor="end">Apr 18, 2020</text>
<text transform="translate(268.7 571.4) rotate(-45)" text-anchor="end">May 09, 2020</text>
<text transform="translate(299.3 571.4) rotate(-45)" text-anchor="end">May 30, 2020</text>
<text transform="translate(329.8 571.4) rotate(-45)" text-anchor="end">Jun 20, 2020</text>
<text transform="translate(360.4 571.4) rotate(-45)" text-anchor="end">Jul 11, 2020</text>
<text transform="translate(390.9 571.4) rotate(-45)" text-anchor="end">Aug 01, 2020</text>
<text transform="translate(421.5 571.4) rotate(-45)" text-anchor="end">Aug 22, 2020</text>
<text transform="translate(452.0 571.4) rotate(-45)" text-anchor="end">Sep 12, 2020</text>
<text transform="translate(482.6 571.4) rotate(-45)" text-anchor="end">Oct 03, 2020</text>
<text transform="translate(513.1 571.4) rotate(-45)" text-anchor="end">Oct 24, 2020</text>
<text transform="translate(543.7 571.4) rotate(-45)" text-anchor="end">Nov 14, 2020</text>
<text transform="translate(574.2 571.4) rotate(-45)" text-anchor="end">Dec 05, 2020</text>
<text transform="translate(604.8 571.4) rotate(-45)" text-anchor="end">Dec 26, 2020</text>
<text transform="translate(635.3 571.4) rotate(-45)" text-anchor="end">Jan 16, 2021</text>
<text transform="translate(665.9 571.4) rotate(-45)" text-anchor="end">Feb 06, 2021</text>
<text transform="translate(696.4 571.4) rotate(-45)" text-anchor="end">Feb 27, 2021</text>
<text transform="translate(727.0 571.4) rotate(-45)" text-anchor="end">Mar 20, 2021</text>
<text transform="translate(757.5 571.4) rotate(-45)" text-anchor="end">Apr 10, 2021</text>
<text transform="translate(788.1 571.4) rotate(-45)" text-anchor="end">May 01, 2021</text>
<text transform="translate(818.6 571.4) rotate(-45)" text-anchor="end">May 22, 2021</text>
<text transform="translate(849.2 571.4) rotate(-45)" text-anchor="end">Jun 12, 2021</text>
<text transform="translate(879.7 571.4) rotate(-45)" text-anchor="end">Jul 03, 2021</text>
<text transform="translate(910.3 571.4) rotate(-45)" text-anchor="end">Jul 24, 2021</text>
<text transform="translate(940.8 571.4) rotate(-45)" text-anchor="end">Aug 14, 2021</text>
<text transform="translate(971.4 571.4) rotate(-45)" text-anchor="end">Sep 04, 2021</text>
<text transform="translate(1001.9 571.4) rotate(-45)" text-anchor="end">Sep 25, 2021</text>
<text transform="translate(1032.5 571.4) rotate(-45)" text-anchor="end">Oct 16, 2021</text>
<text transform="translate(1063.0 571.4) rotate(-45)" text-anchor="end">Nov 06, 2021</text>
</g>
<g class="lg">
<circle cx="187.0" cy="691" r="8.8" fill="#999"/>
<text x="208.0" y="698.6" fill="#333" textLength="112.0" lengthAdjust="spacingAndGlyphs">Daily Deaths</text>
<path d="M351.0 692.5h24" stroke="#ccc" stroke-width="2.5"/><circle cx="363.0" cy="692.5" r="6" fill="#ccc"/>
<text x="384.3" y="698.6" fill="#ccc" textLength="201.5" lengthAdjust="spacingAndGlyphs">3-day moving average</text>
<path d="M646.2 692.5h24" stroke="#ccc" stroke-width="2.5"/><path d="M658.2 686.5l6 6l-6 6l-6 -6z" fill="#ccc"/>
<text x="678.4" y="698.6" fill="#ccc" textLength="201.5" lengthAdjust="spacingAndGlyphs">7-day moving average</text>
</g>
</svg>
<input type="checkbox" class="cb" style="left:616px;top:687px" aria-label="3-day moving average">
<input type="checkbox" class="cb" style="left:911px;top:687px" aria-label="7-day moving average">
</div>
<div class="see" style="top:1542px;letter-spacing:0.19px">See also: <a href="#cases">Daily Cases Graph</a></div>
</body></html>
